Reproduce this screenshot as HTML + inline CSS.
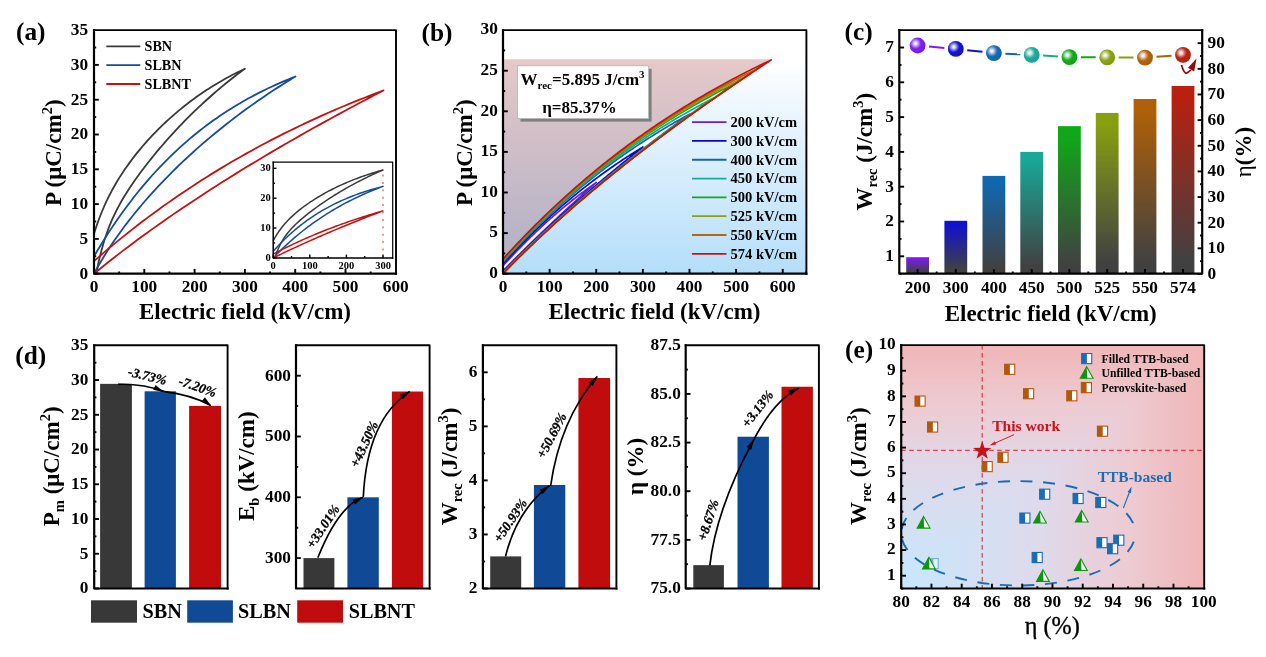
<!DOCTYPE html>
<html lang="en">
<head>
<meta charset="utf-8">
<title>Energy storage figure</title>
<style>
html,body{margin:0;padding:0;background:#fff;}
body{width:1266px;height:657px;overflow:hidden;}
svg{display:block;font-family:'Liberation Serif', serif;}
</style>
</head>
<body>
<svg width="1266" height="657" viewBox="0 0 1266 657">
<defs>
<linearGradient id="gb" x1="0" y1="0" x2="0" y2="1"><stop offset="0" stop-color="#ffffff"/><stop offset="0.12" stop-color="#ffffff"/><stop offset="0.38" stop-color="#e8f4fe"/><stop offset="1" stop-color="#b4defa"/></linearGradient>
<linearGradient id="cb0" x1="0" y1="0" x2="0" y2="1"><stop offset="0" stop-color="#7a1cf0"/><stop offset="0.06" stop-color="#7a1cf0"/><stop offset="0.93" stop-color="#414141"/><stop offset="1" stop-color="#404040"/></linearGradient>
<radialGradient id="cs0" cx="0.37" cy="0.37" r="0.62" fx="0.37" fy="0.37"><stop offset="0" stop-color="#ffffff"/><stop offset="0.14" stop-color="#ffffff" stop-opacity="0.85"/><stop offset="0.5" stop-color="#ffffff" stop-opacity="0.12"/><stop offset="0.62" stop-color="#ffffff" stop-opacity="0"/><stop offset="1" stop-color="#000000" stop-opacity="0.06"/></radialGradient>
<linearGradient id="cb1" x1="0" y1="0" x2="0" y2="1"><stop offset="0" stop-color="#1010d0"/><stop offset="0.06" stop-color="#1010d0"/><stop offset="0.93" stop-color="#414141"/><stop offset="1" stop-color="#404040"/></linearGradient>
<radialGradient id="cs1" cx="0.37" cy="0.37" r="0.62" fx="0.37" fy="0.37"><stop offset="0" stop-color="#ffffff"/><stop offset="0.14" stop-color="#ffffff" stop-opacity="0.85"/><stop offset="0.5" stop-color="#ffffff" stop-opacity="0.12"/><stop offset="0.62" stop-color="#ffffff" stop-opacity="0"/><stop offset="1" stop-color="#000000" stop-opacity="0.06"/></radialGradient>
<linearGradient id="cb2" x1="0" y1="0" x2="0" y2="1"><stop offset="0" stop-color="#1068b0"/><stop offset="0.06" stop-color="#1068b0"/><stop offset="0.93" stop-color="#414141"/><stop offset="1" stop-color="#404040"/></linearGradient>
<radialGradient id="cs2" cx="0.37" cy="0.37" r="0.62" fx="0.37" fy="0.37"><stop offset="0" stop-color="#ffffff"/><stop offset="0.14" stop-color="#ffffff" stop-opacity="0.85"/><stop offset="0.5" stop-color="#ffffff" stop-opacity="0.12"/><stop offset="0.62" stop-color="#ffffff" stop-opacity="0"/><stop offset="1" stop-color="#000000" stop-opacity="0.06"/></radialGradient>
<linearGradient id="cb3" x1="0" y1="0" x2="0" y2="1"><stop offset="0" stop-color="#18a898"/><stop offset="0.06" stop-color="#18a898"/><stop offset="0.93" stop-color="#414141"/><stop offset="1" stop-color="#404040"/></linearGradient>
<radialGradient id="cs3" cx="0.37" cy="0.37" r="0.62" fx="0.37" fy="0.37"><stop offset="0" stop-color="#ffffff"/><stop offset="0.14" stop-color="#ffffff" stop-opacity="0.85"/><stop offset="0.5" stop-color="#ffffff" stop-opacity="0.12"/><stop offset="0.62" stop-color="#ffffff" stop-opacity="0"/><stop offset="1" stop-color="#000000" stop-opacity="0.06"/></radialGradient>
<linearGradient id="cb4" x1="0" y1="0" x2="0" y2="1"><stop offset="0" stop-color="#10a818"/><stop offset="0.06" stop-color="#10a818"/><stop offset="0.93" stop-color="#414141"/><stop offset="1" stop-color="#404040"/></linearGradient>
<radialGradient id="cs4" cx="0.37" cy="0.37" r="0.62" fx="0.37" fy="0.37"><stop offset="0" stop-color="#ffffff"/><stop offset="0.14" stop-color="#ffffff" stop-opacity="0.85"/><stop offset="0.5" stop-color="#ffffff" stop-opacity="0.12"/><stop offset="0.62" stop-color="#ffffff" stop-opacity="0"/><stop offset="1" stop-color="#000000" stop-opacity="0.06"/></radialGradient>
<linearGradient id="cb5" x1="0" y1="0" x2="0" y2="1"><stop offset="0" stop-color="#88a010"/><stop offset="0.06" stop-color="#88a010"/><stop offset="0.93" stop-color="#414141"/><stop offset="1" stop-color="#404040"/></linearGradient>
<radialGradient id="cs5" cx="0.37" cy="0.37" r="0.62" fx="0.37" fy="0.37"><stop offset="0" stop-color="#ffffff"/><stop offset="0.14" stop-color="#ffffff" stop-opacity="0.85"/><stop offset="0.5" stop-color="#ffffff" stop-opacity="0.12"/><stop offset="0.62" stop-color="#ffffff" stop-opacity="0"/><stop offset="1" stop-color="#000000" stop-opacity="0.06"/></radialGradient>
<linearGradient id="cb6" x1="0" y1="0" x2="0" y2="1"><stop offset="0" stop-color="#b06008"/><stop offset="0.06" stop-color="#b06008"/><stop offset="0.93" stop-color="#414141"/><stop offset="1" stop-color="#404040"/></linearGradient>
<radialGradient id="cs6" cx="0.37" cy="0.37" r="0.62" fx="0.37" fy="0.37"><stop offset="0" stop-color="#ffffff"/><stop offset="0.14" stop-color="#ffffff" stop-opacity="0.85"/><stop offset="0.5" stop-color="#ffffff" stop-opacity="0.12"/><stop offset="0.62" stop-color="#ffffff" stop-opacity="0"/><stop offset="1" stop-color="#000000" stop-opacity="0.06"/></radialGradient>
<linearGradient id="cb7" x1="0" y1="0" x2="0" y2="1"><stop offset="0" stop-color="#b82010"/><stop offset="0.06" stop-color="#b82010"/><stop offset="0.93" stop-color="#414141"/><stop offset="1" stop-color="#404040"/></linearGradient>
<radialGradient id="cs7" cx="0.37" cy="0.37" r="0.62" fx="0.37" fy="0.37"><stop offset="0" stop-color="#ffffff"/><stop offset="0.14" stop-color="#ffffff" stop-opacity="0.85"/><stop offset="0.5" stop-color="#ffffff" stop-opacity="0.12"/><stop offset="0.62" stop-color="#ffffff" stop-opacity="0"/><stop offset="1" stop-color="#000000" stop-opacity="0.06"/></radialGradient>
<linearGradient id="geh" x1="901.2" y1="0" x2="1204.2" y2="0" gradientUnits="userSpaceOnUse"><stop offset="0" stop-color="#c6e8fd"/><stop offset="0.45" stop-color="#dedaec"/><stop offset="0.75" stop-color="#edcbd2"/><stop offset="1" stop-color="#f0b6b8"/></linearGradient>
<linearGradient id="gev" x1="0" y1="588.5" x2="0" y2="345.1" gradientUnits="userSpaceOnUse"><stop offset="0" stop-color="#c6e8fd"/><stop offset="0.45" stop-color="#dedaec"/><stop offset="0.75" stop-color="#edcbd2"/><stop offset="1" stop-color="#f0b6b8"/></linearGradient>
</defs>
<rect x="0" y="0" width="1266" height="657" fill="#fff"/>
<g id="panel-a">
<text x="16" y="40.3" font-size="25.3" text-anchor="start" font-weight="bold" fill="#000">(a)</text>
<clipPath id="clipa"><rect x="94" y="30.1" width="302" height="243.6"/></clipPath>
<g clip-path="url(#clipa)">
<path d="M94 233.75 L96.56 225.91 L99.12 218.78 L101.67 212.26 L104.23 206.24 L106.79 200.66 L109.35 195.46 L111.9 190.56 L114.46 185.95 L117.02 181.57 L119.58 177.4 L122.13 173.42 L124.69 169.6 L127.25 165.92 L129.81 162.38 L132.36 158.96 L134.92 155.64 L137.48 152.43 L140.04 149.31 L142.59 146.28 L145.15 143.33 L147.71 140.46 L150.27 137.66 L152.83 134.93 L155.38 132.27 L157.94 129.67 L160.5 127.14 L163.06 124.66 L165.61 122.24 L168.17 119.87 L170.73 117.56 L173.29 115.3 L175.84 113.09 L178.4 110.93 L180.96 108.82 L183.52 106.76 L186.07 104.74 L188.63 102.76 L191.19 100.83 L193.75 98.94 L196.3 97.1 L198.86 95.29 L201.42 93.52 L203.98 91.79 L206.54 90.1 L209.09 88.45 L211.65 86.83 L214.21 85.24 L216.77 83.69 L219.32 82.18 L221.88 80.7 L224.44 79.25 L227 77.83 L229.55 76.44 L232.11 75.08 L234.67 73.76 L237.23 72.46 L239.78 71.19 L242.34 69.94 L244.9 68.73 L244.9 68.73 L242.38 70.58 L239.86 72.46 L237.34 74.37 L234.82 76.3 L232.3 78.27 L229.78 80.25 L227.26 82.27 L224.74 84.32 L222.22 86.39 L219.7 88.49 L217.18 90.63 L214.66 92.79 L212.14 94.98 L209.62 97.21 L207.1 99.46 L204.58 101.75 L202.06 104.07 L199.54 106.42 L197.02 108.8 L194.5 111.22 L191.98 113.68 L189.46 116.16 L186.94 118.69 L184.42 121.24 L181.9 123.84 L179.38 126.47 L176.86 129.14 L174.34 131.85 L171.82 134.59 L169.3 137.38 L166.78 140.21 L164.26 143.08 L161.74 145.99 L159.22 148.95 L156.7 151.95 L154.18 155 L151.66 158.1 L149.14 161.25 L146.62 164.46 L144.1 167.73 L141.58 171.06 L139.05 174.46 L136.53 177.95 L134.01 181.52 L131.49 185.19 L128.97 188.99 L126.45 192.91 L123.93 197.01 L121.41 201.3 L118.89 205.82 L116.37 210.64 L113.85 215.82 L111.33 221.45 L108.81 227.64 L106.29 234.53 L103.77 242.31 L101.25 251.22 L98.73 261.55 L96.21 273.7" fill="none" stroke="#3a3a3a" stroke-width="1.8" stroke-linejoin="round"/>
<path d="M94 256.3 L97.42 250.54 L100.83 244.92 L104.25 239.44 L107.66 234.09 L111.08 228.88 L114.49 223.79 L117.91 218.84 L121.32 214 L124.74 209.28 L128.15 204.68 L131.57 200.2 L134.98 195.82 L138.4 191.56 L141.81 187.4 L145.23 183.34 L148.64 179.38 L152.06 175.52 L155.47 171.76 L158.89 168.09 L162.31 164.51 L165.72 161.02 L169.14 157.61 L172.55 154.29 L175.97 151.05 L179.38 147.9 L182.8 144.82 L186.21 141.81 L189.63 138.88 L193.04 136.03 L196.46 133.24 L199.87 130.52 L203.29 127.87 L206.7 125.29 L210.12 122.77 L213.53 120.31 L216.95 117.91 L220.37 115.57 L223.78 113.29 L227.2 111.07 L230.61 108.9 L234.03 106.78 L237.44 104.72 L240.86 102.71 L244.27 100.75 L247.69 98.83 L251.1 96.97 L254.52 95.15 L257.93 93.37 L261.35 91.64 L264.76 89.95 L268.18 88.31 L271.59 86.7 L275.01 85.14 L278.42 83.61 L281.84 82.12 L285.26 80.67 L288.67 79.25 L292.09 77.87 L295.5 76.52 L295.5 76.52 L292.09 78.59 L288.67 80.68 L285.26 82.8 L281.84 84.95 L278.42 87.13 L275.01 89.33 L271.59 91.57 L268.18 93.83 L264.76 96.13 L261.35 98.45 L257.93 100.81 L254.52 103.2 L251.1 105.62 L247.69 108.07 L244.27 110.56 L240.86 113.08 L237.44 115.63 L234.03 118.22 L230.61 120.84 L227.2 123.5 L223.78 126.2 L220.37 128.93 L216.95 131.7 L213.53 134.51 L210.12 137.36 L206.7 140.25 L203.29 143.18 L199.87 146.16 L196.46 149.18 L193.04 152.24 L189.63 155.35 L186.21 158.5 L182.8 161.71 L179.38 164.96 L175.97 168.27 L172.55 171.63 L169.14 175.05 L165.72 178.52 L162.31 182.06 L158.89 185.66 L155.47 189.33 L152.06 193.06 L148.64 196.87 L145.23 200.76 L141.81 204.74 L138.4 208.8 L134.98 212.95 L131.57 217.21 L128.15 221.58 L124.74 226.06 L121.32 230.67 L117.91 235.42 L114.49 240.31 L111.08 245.37 L107.66 250.61 L104.25 256.04 L100.83 261.68 L97.42 267.56 L94 273.7" fill="none" stroke="#154c9c" stroke-width="1.8" stroke-linejoin="round"/>
<path d="M94 261.17 L98.91 256.9 L103.81 252.68 L108.72 248.53 L113.63 244.43 L118.53 240.4 L123.44 236.42 L128.34 232.5 L133.25 228.64 L138.16 224.83 L143.06 221.08 L147.97 217.38 L152.88 213.74 L157.78 210.15 L162.69 206.6 L167.6 203.11 L172.5 199.68 L177.41 196.28 L182.31 192.94 L187.22 189.65 L192.13 186.41 L197.03 183.21 L201.94 180.05 L206.85 176.95 L211.75 173.88 L216.66 170.86 L221.57 167.89 L226.47 164.96 L231.38 162.07 L236.28 159.22 L241.19 156.41 L246.1 153.65 L251 150.92 L255.91 148.23 L260.82 145.58 L265.72 142.97 L270.63 140.4 L275.54 137.86 L280.44 135.36 L285.35 132.9 L290.25 130.47 L295.16 128.08 L300.07 125.72 L304.97 123.39 L309.88 121.1 L314.79 118.84 L319.69 116.62 L324.6 114.43 L329.51 112.26 L334.41 110.13 L339.32 108.03 L344.22 105.96 L349.13 103.92 L354.04 101.91 L358.94 99.93 L363.85 97.98 L368.76 96.05 L373.66 94.16 L378.57 92.29 L383.48 90.44 L383.48 90.44 L378.57 92.99 L373.66 95.55 L368.76 98.12 L363.85 100.7 L358.94 103.3 L354.04 105.92 L349.13 108.54 L344.22 111.18 L339.32 113.84 L334.41 116.51 L329.51 119.19 L324.6 121.89 L319.69 124.6 L314.79 127.33 L309.88 130.08 L304.97 132.84 L300.07 135.62 L295.16 138.41 L290.25 141.22 L285.35 144.05 L280.44 146.9 L275.54 149.76 L270.63 152.65 L265.72 155.55 L260.82 158.47 L255.91 161.41 L251 164.37 L246.1 167.35 L241.19 170.35 L236.28 173.37 L231.38 176.41 L226.47 179.48 L221.57 182.57 L216.66 185.68 L211.75 188.82 L206.85 191.98 L201.94 195.17 L197.03 198.39 L192.13 201.63 L187.22 204.9 L182.31 208.2 L177.41 211.53 L172.5 214.88 L167.6 218.27 L162.69 221.7 L157.78 225.15 L152.88 228.64 L147.97 232.17 L143.06 235.73 L138.16 239.33 L133.25 242.97 L128.34 246.66 L123.44 250.38 L118.53 254.15 L113.63 257.96 L108.72 261.82 L103.81 265.73 L98.91 269.69 L94 273.7" fill="none" stroke="#c01414" stroke-width="1.8" stroke-linejoin="round"/>
</g>
<path d="M94 30.1 L396 30.1 L396 273.7" fill="none" stroke="#000" stroke-width="1.9" stroke-linejoin="round" stroke-linecap="square"/>
<path d="M94 30.1 L94 273.7 L396 273.7" fill="none" stroke="#000" stroke-width="2.2" stroke-linejoin="round" stroke-linecap="square"/>
<line x1="94" y1="273.7" x2="94" y2="268.9" stroke="#000" stroke-width="1.9"/>
<text x="94" y="292.3" font-size="17.3" text-anchor="middle" font-weight="bold" fill="#000">0</text>
<line x1="144.3" y1="273.7" x2="144.3" y2="268.9" stroke="#000" stroke-width="1.9"/>
<text x="144.3" y="292.3" font-size="17.3" text-anchor="middle" font-weight="bold" fill="#000">100</text>
<line x1="194.6" y1="273.7" x2="194.6" y2="268.9" stroke="#000" stroke-width="1.9"/>
<text x="194.6" y="292.3" font-size="17.3" text-anchor="middle" font-weight="bold" fill="#000">200</text>
<line x1="244.9" y1="273.7" x2="244.9" y2="268.9" stroke="#000" stroke-width="1.9"/>
<text x="244.9" y="292.3" font-size="17.3" text-anchor="middle" font-weight="bold" fill="#000">300</text>
<line x1="295.2" y1="273.7" x2="295.2" y2="268.9" stroke="#000" stroke-width="1.9"/>
<text x="295.2" y="292.3" font-size="17.3" text-anchor="middle" font-weight="bold" fill="#000">400</text>
<line x1="345.5" y1="273.7" x2="345.5" y2="268.9" stroke="#000" stroke-width="1.9"/>
<text x="345.5" y="292.3" font-size="17.3" text-anchor="middle" font-weight="bold" fill="#000">500</text>
<text x="395.8" y="292.3" font-size="17.3" text-anchor="middle" font-weight="bold" fill="#000">600</text>
<line x1="119.15" y1="273.7" x2="119.15" y2="271.5" stroke="#000" stroke-width="1.9"/>
<line x1="169.45" y1="273.7" x2="169.45" y2="271.5" stroke="#000" stroke-width="1.9"/>
<line x1="219.75" y1="273.7" x2="219.75" y2="271.5" stroke="#000" stroke-width="1.9"/>
<line x1="270.05" y1="273.7" x2="270.05" y2="271.5" stroke="#000" stroke-width="1.9"/>
<line x1="320.35" y1="273.7" x2="320.35" y2="271.5" stroke="#000" stroke-width="1.9"/>
<line x1="370.65" y1="273.7" x2="370.65" y2="271.5" stroke="#000" stroke-width="1.9"/>
<line x1="94" y1="273.7" x2="98.8" y2="273.7" stroke="#000" stroke-width="1.9"/>
<text x="88.1" y="278.54" font-size="17.3" text-anchor="end" font-weight="bold" fill="#000">0</text>
<line x1="94" y1="238.9" x2="98.8" y2="238.9" stroke="#000" stroke-width="1.9"/>
<text x="88.1" y="243.74" font-size="17.3" text-anchor="end" font-weight="bold" fill="#000">5</text>
<line x1="94" y1="204.1" x2="98.8" y2="204.1" stroke="#000" stroke-width="1.9"/>
<text x="88.1" y="208.94" font-size="17.3" text-anchor="end" font-weight="bold" fill="#000">10</text>
<line x1="94" y1="169.3" x2="98.8" y2="169.3" stroke="#000" stroke-width="1.9"/>
<text x="88.1" y="174.14" font-size="17.3" text-anchor="end" font-weight="bold" fill="#000">15</text>
<line x1="94" y1="134.5" x2="98.8" y2="134.5" stroke="#000" stroke-width="1.9"/>
<text x="88.1" y="139.34" font-size="17.3" text-anchor="end" font-weight="bold" fill="#000">20</text>
<line x1="94" y1="99.7" x2="98.8" y2="99.7" stroke="#000" stroke-width="1.9"/>
<text x="88.1" y="104.54" font-size="17.3" text-anchor="end" font-weight="bold" fill="#000">25</text>
<line x1="94" y1="64.9" x2="98.8" y2="64.9" stroke="#000" stroke-width="1.9"/>
<text x="88.1" y="69.74" font-size="17.3" text-anchor="end" font-weight="bold" fill="#000">30</text>
<text x="88.1" y="34.94" font-size="17.3" text-anchor="end" font-weight="bold" fill="#000">35</text>
<line x1="94" y1="256.3" x2="96.2" y2="256.3" stroke="#000" stroke-width="1.9"/>
<line x1="94" y1="221.5" x2="96.2" y2="221.5" stroke="#000" stroke-width="1.9"/>
<line x1="94" y1="186.7" x2="96.2" y2="186.7" stroke="#000" stroke-width="1.9"/>
<line x1="94" y1="151.9" x2="96.2" y2="151.9" stroke="#000" stroke-width="1.9"/>
<line x1="94" y1="117.1" x2="96.2" y2="117.1" stroke="#000" stroke-width="1.9"/>
<line x1="94" y1="82.3" x2="96.2" y2="82.3" stroke="#000" stroke-width="1.9"/>
<line x1="94" y1="47.5" x2="96.2" y2="47.5" stroke="#000" stroke-width="1.9"/>
<text x="245" y="318.7" font-size="23" text-anchor="middle" font-weight="bold" fill="#000">Electric field (kV/cm)</text>
<text x="61.5" y="152.7" font-size="23" text-anchor="middle" font-weight="bold" fill="#000" transform="rotate(-90 61.5 152.7)">P (μC/cm<tspan dy="-9" font-size="14.5">2</tspan><tspan dy="9">&#8203;</tspan>)</text>
<line x1="106.3" y1="46.3" x2="140.3" y2="46.3" stroke="#3a3a3a" stroke-width="1.8"/>
<text x="144.5" y="50.8" font-size="14.2" text-anchor="start" font-weight="bold" fill="#000">SBN</text>
<line x1="106.3" y1="65.15" x2="140.3" y2="65.15" stroke="#154c9c" stroke-width="1.8"/>
<text x="144.5" y="69.65" font-size="14.2" text-anchor="start" font-weight="bold" fill="#000">SLBN</text>
<line x1="106.3" y1="84" x2="140.3" y2="84" stroke="#c01414" stroke-width="1.8"/>
<text x="144.5" y="88.5" font-size="14.2" text-anchor="start" font-weight="bold" fill="#000">SLBNT</text>
<rect x="273.2" y="162.2" width="119.5" height="95.7" fill="#fff" stroke="none" stroke-width="1.5"/>
<path d="M273.2 240.77 L275.06 237.4 L276.92 234.35 L278.78 231.55 L280.64 228.97 L282.51 226.58 L284.37 224.34 L286.23 222.24 L288.09 220.26 L289.95 218.39 L291.81 216.6 L293.67 214.89 L295.53 213.25 L297.39 211.68 L299.25 210.16 L301.12 208.69 L302.98 207.27 L304.84 205.89 L306.7 204.55 L308.56 203.25 L310.42 201.99 L312.28 200.76 L314.14 199.56 L316 198.39 L317.86 197.24 L319.73 196.13 L321.59 195.04 L323.45 193.98 L325.31 192.94 L327.17 191.93 L329.03 190.93 L330.89 189.97 L332.75 189.02 L334.61 188.09 L336.48 187.19 L338.34 186.3 L340.2 185.44 L342.06 184.59 L343.92 183.76 L345.78 182.95 L347.64 182.16 L349.5 181.38 L351.36 180.62 L353.22 179.88 L355.09 179.16 L356.95 178.45 L358.81 177.75 L360.67 177.07 L362.53 176.41 L364.39 175.76 L366.25 175.12 L368.11 174.5 L369.97 173.89 L371.83 173.3 L373.7 172.72 L375.56 172.15 L377.42 171.59 L379.28 171.05 L381.14 170.51 L383 169.99 L383 169.99 L381.17 170.79 L379.33 171.59 L377.5 172.41 L375.67 173.24 L373.83 174.08 L372 174.93 L370.16 175.8 L368.33 176.68 L366.5 177.57 L364.66 178.47 L362.83 179.38 L361 180.31 L359.16 181.25 L357.33 182.2 L355.49 183.17 L353.66 184.15 L351.83 185.15 L349.99 186.16 L348.16 187.18 L346.33 188.22 L344.49 189.27 L342.66 190.34 L340.82 191.42 L338.99 192.51 L337.16 193.63 L335.32 194.76 L333.49 195.9 L331.66 197.06 L329.82 198.24 L327.99 199.44 L326.16 200.65 L324.32 201.88 L322.49 203.13 L320.65 204.4 L318.82 205.68 L316.99 206.99 L315.15 208.32 L313.32 209.67 L311.49 211.05 L309.65 212.45 L307.82 213.88 L305.98 215.34 L304.15 216.83 L302.32 218.37 L300.48 219.94 L298.65 221.57 L296.82 223.25 L294.98 225.01 L293.15 226.85 L291.31 228.79 L289.48 230.86 L287.65 233.08 L285.81 235.49 L283.98 238.15 L282.15 241.1 L280.31 244.44 L278.48 248.26 L276.64 252.69 L274.81 257.9" fill="none" stroke="#3a3a3a" stroke-width="1.5" stroke-linejoin="round"/>
<path d="M273.2 251.33 L275.06 249.24 L276.92 247.2 L278.78 245.21 L280.64 243.28 L282.51 241.39 L284.37 239.54 L286.23 237.75 L288.09 235.99 L289.95 234.29 L291.81 232.62 L293.67 231 L295.53 229.41 L297.39 227.87 L299.25 226.37 L301.12 224.9 L302.98 223.47 L304.84 222.07 L306.7 220.71 L308.56 219.39 L310.42 218.09 L312.28 216.83 L314.14 215.6 L316 214.4 L317.86 213.23 L319.73 212.09 L321.59 210.98 L323.45 209.9 L325.31 208.84 L327.17 207.81 L329.03 206.81 L330.89 205.83 L332.75 204.87 L334.61 203.94 L336.48 203.03 L338.34 202.14 L340.2 201.28 L342.06 200.44 L343.92 199.62 L345.78 198.82 L347.64 198.03 L349.5 197.27 L351.36 196.53 L353.22 195.81 L355.09 195.1 L356.95 194.41 L358.81 193.74 L360.67 193.08 L362.53 192.44 L364.39 191.82 L366.25 191.21 L368.11 190.62 L369.97 190.04 L371.83 189.48 L373.7 188.93 L375.56 188.39 L377.42 187.87 L379.28 187.36 L381.14 186.86 L383 186.38 L383 186.38 L381.14 187.08 L379.28 187.79 L377.42 188.51 L375.56 189.25 L373.7 189.99 L371.83 190.76 L369.97 191.53 L368.11 192.32 L366.25 193.12 L364.39 193.94 L362.53 194.77 L360.67 195.62 L358.81 196.48 L356.95 197.35 L355.09 198.25 L353.22 199.15 L351.36 200.08 L349.5 201.02 L347.64 201.97 L345.78 202.95 L343.92 203.94 L342.06 204.95 L340.2 205.97 L338.34 207.02 L336.48 208.08 L334.61 209.16 L332.75 210.26 L330.89 211.38 L329.03 212.52 L327.17 213.68 L325.31 214.86 L323.45 216.06 L321.59 217.28 L319.73 218.53 L317.86 219.79 L316 221.08 L314.14 222.39 L312.28 223.73 L310.42 225.09 L308.56 226.47 L306.7 227.87 L304.84 229.31 L302.98 230.76 L301.12 232.24 L299.25 233.75 L297.39 235.29 L295.53 236.85 L293.67 238.44 L291.81 240.06 L289.95 241.7 L288.09 243.38 L286.23 245.09 L284.37 246.82 L282.51 248.59 L280.64 250.39 L278.78 252.22 L276.92 254.08 L275.06 255.97 L273.2 257.9" fill="none" stroke="#154c9c" stroke-width="1.5" stroke-linejoin="round"/>
<path d="M273.2 254.17 L275.06 253.19 L276.92 252.22 L278.78 251.26 L280.64 250.31 L282.51 249.37 L284.37 248.44 L286.23 247.52 L288.09 246.61 L289.95 245.71 L291.81 244.82 L293.67 243.94 L295.53 243.07 L297.39 242.21 L299.25 241.35 L301.12 240.51 L302.98 239.67 L304.84 238.84 L306.7 238.03 L308.56 237.22 L310.42 236.41 L312.28 235.62 L314.14 234.84 L316 234.06 L317.86 233.29 L319.73 232.53 L321.59 231.78 L323.45 231.03 L325.31 230.3 L327.17 229.57 L329.03 228.85 L330.89 228.13 L332.75 227.43 L334.61 226.73 L336.48 226.04 L338.34 225.35 L340.2 224.67 L342.06 224 L343.92 223.34 L345.78 222.68 L347.64 222.04 L349.5 221.39 L351.36 220.76 L353.22 220.13 L355.09 219.51 L356.95 218.89 L358.81 218.28 L360.67 217.68 L362.53 217.08 L364.39 216.49 L366.25 215.91 L368.11 215.33 L369.97 214.76 L371.83 214.19 L373.7 213.63 L375.56 213.08 L377.42 212.53 L379.28 211.98 L381.14 211.45 L383 210.92 L383 210.92 L381.14 211.61 L379.28 212.32 L377.42 213.02 L375.56 213.73 L373.7 214.44 L371.83 215.16 L369.97 215.87 L368.11 216.59 L366.25 217.32 L364.39 218.05 L362.53 218.78 L360.67 219.51 L358.81 220.25 L356.95 220.99 L355.09 221.73 L353.22 222.48 L351.36 223.23 L349.5 223.98 L347.64 224.74 L345.78 225.5 L343.92 226.26 L342.06 227.03 L340.2 227.8 L338.34 228.57 L336.48 229.35 L334.61 230.13 L332.75 230.91 L330.89 231.7 L329.03 232.49 L327.17 233.28 L325.31 234.08 L323.45 234.88 L321.59 235.69 L319.73 236.49 L317.86 237.31 L316 238.12 L314.14 238.94 L312.28 239.76 L310.42 240.59 L308.56 241.42 L306.7 242.25 L304.84 243.09 L302.98 243.93 L301.12 244.77 L299.25 245.62 L297.39 246.48 L295.53 247.33 L293.67 248.19 L291.81 249.05 L289.95 249.92 L288.09 250.79 L286.23 251.67 L284.37 252.55 L282.51 253.43 L280.64 254.31 L278.78 255.21 L276.92 256.1 L275.06 257 L273.2 257.9" fill="none" stroke="#c01414" stroke-width="1.5" stroke-linejoin="round"/>
<line x1="383" y1="257.9" x2="383" y2="169.54" stroke="#f07c7c" stroke-width="1.6" stroke-dasharray="2 5.4"/>
<path d="M273.2 162.2 L392.7 162.2 L392.7 257.9" fill="none" stroke="#000" stroke-width="1.2" stroke-linejoin="round" stroke-linecap="square"/>
<path d="M273.2 162.2 L273.2 257.9 L392.7 257.9" fill="none" stroke="#000" stroke-width="1.5" stroke-linejoin="round" stroke-linecap="square"/>
<line x1="273.2" y1="257.9" x2="273.2" y2="254.6" stroke="#000" stroke-width="1.4"/>
<text x="273.2" y="268.6" font-size="10.5" text-anchor="middle" font-weight="bold" fill="#000">0</text>
<line x1="309.8" y1="257.9" x2="309.8" y2="254.6" stroke="#000" stroke-width="1.4"/>
<text x="309.8" y="268.6" font-size="10.5" text-anchor="middle" font-weight="bold" fill="#000">100</text>
<line x1="346.4" y1="257.9" x2="346.4" y2="254.6" stroke="#000" stroke-width="1.4"/>
<text x="346.4" y="268.6" font-size="10.5" text-anchor="middle" font-weight="bold" fill="#000">200</text>
<line x1="383" y1="257.9" x2="383" y2="254.6" stroke="#000" stroke-width="1.4"/>
<text x="383" y="268.6" font-size="10.5" text-anchor="middle" font-weight="bold" fill="#000">300</text>
<line x1="291.5" y1="257.9" x2="291.5" y2="256" stroke="#000" stroke-width="1.4"/>
<line x1="328.1" y1="257.9" x2="328.1" y2="256" stroke="#000" stroke-width="1.4"/>
<line x1="364.7" y1="257.9" x2="364.7" y2="256" stroke="#000" stroke-width="1.4"/>
<line x1="273.2" y1="257.9" x2="276.5" y2="257.9" stroke="#000" stroke-width="1.4"/>
<text x="270.8" y="260.84" font-size="10.5" text-anchor="end" font-weight="bold" fill="#000">0</text>
<line x1="273.2" y1="228.05" x2="276.5" y2="228.05" stroke="#000" stroke-width="1.4"/>
<text x="270.8" y="230.99" font-size="10.5" text-anchor="end" font-weight="bold" fill="#000">10</text>
<line x1="273.2" y1="198.2" x2="276.5" y2="198.2" stroke="#000" stroke-width="1.4"/>
<text x="270.8" y="201.14" font-size="10.5" text-anchor="end" font-weight="bold" fill="#000">20</text>
<line x1="273.2" y1="168.35" x2="276.5" y2="168.35" stroke="#000" stroke-width="1.4"/>
<text x="270.8" y="171.29" font-size="10.5" text-anchor="end" font-weight="bold" fill="#000">30</text>
<line x1="273.2" y1="242.97" x2="275.1" y2="242.97" stroke="#000" stroke-width="1.4"/>
<line x1="273.2" y1="213.12" x2="275.1" y2="213.12" stroke="#000" stroke-width="1.4"/>
<line x1="273.2" y1="183.27" x2="275.1" y2="183.27" stroke="#000" stroke-width="1.4"/>
</g>
<g id="panel-b">
<text x="421.5" y="41" font-size="25.3" text-anchor="start" font-weight="bold" fill="#000">(b)</text>
<rect x="503" y="30.1" width="303.4" height="243.6" fill="url(#gb)" stroke="none" stroke-width="1.5"/>
<path d="M503 259.08 L505.71 256.1 L508.42 253.15 L511.13 250.22 L513.84 247.31 L516.55 244.43 L519.26 241.57 L521.97 238.74 L524.68 235.94 L527.39 233.16 L530.1 230.4 L532.81 227.66 L535.52 224.95 L538.23 222.26 L540.94 219.6 L543.65 216.96 L546.36 214.34 L549.07 211.74 L551.78 209.17 L554.49 206.62 L557.2 204.09 L559.91 201.58 L562.62 199.09 L565.33 196.63 L568.04 194.18 L570.75 191.76 L573.46 189.36 L576.17 186.98 L578.88 184.61 L581.59 182.27 L584.3 179.95 L587.01 177.65 L589.72 175.37 L592.43 173.11 L595.14 170.87 L597.85 168.65 L600.56 166.45 L603.27 164.26 L605.98 162.1 L608.69 159.95 L611.4 157.82 L614.11 155.71 L616.82 153.62 L619.53 151.55 L622.24 149.49 L624.95 147.45 L627.66 145.43 L630.37 143.43 L633.08 141.44 L635.79 139.47 L638.5 137.52 L641.21 135.59 L643.92 133.67 L646.63 131.77 L649.34 129.88 L652.05 128.01 L654.76 126.16 L657.47 124.32 L660.18 122.5 L662.89 120.69 L665.6 118.9 L668.31 117.13 L671.02 115.37 L673.73 113.63 L676.44 111.9 L679.15 110.18 L681.86 108.48 L684.57 106.8 L687.28 105.13 L689.99 103.47 L692.7 101.83 L695.41 100.2 L698.12 98.59 L700.83 96.99 L703.54 95.4 L706.25 93.83 L708.96 92.27 L711.67 90.73 L714.38 89.19 L717.09 87.67 L719.8 86.17 L722.51 84.68 L725.22 83.2 L727.93 81.73 L730.64 80.27 L733.35 78.83 L736.06 77.4 L738.77 75.99 L741.48 74.58 L744.19 73.19 L746.9 71.81 L749.62 70.44 L752.33 69.08 L755.04 67.73 L757.75 66.4 L760.46 65.08 L763.17 63.77 L765.88 62.47 L768.59 61.18 L771.3 59.9 L771.3 59.17 L503 59.17 Z" fill="#a03030" stroke="none" stroke-width="1.8" stroke-linejoin="round" fill-opacity="0.26"/>
<path d="M503 259.08 L505.71 256.1 L508.42 253.15 L511.13 250.22 L513.84 247.31 L516.55 244.43 L519.26 241.57 L521.97 238.74 L524.68 235.94 L527.39 233.16 L530.1 230.4 L532.81 227.66 L535.52 224.95 L538.23 222.26 L540.94 219.6 L543.65 216.96 L546.36 214.34 L549.07 211.74 L551.78 209.17 L554.49 206.62 L557.2 204.09 L559.91 201.58 L562.62 199.09 L565.33 196.63 L568.04 194.18 L570.75 191.76 L573.46 189.36 L576.17 186.98 L578.88 184.61 L581.59 182.27 L584.3 179.95 L587.01 177.65 L589.72 175.37 L592.43 173.11 L595.14 170.87 L597.85 168.65 L600.56 166.45 L603.27 164.26 L605.98 162.1 L608.69 159.95 L611.4 157.82 L614.11 155.71 L616.82 153.62 L619.53 151.55 L622.24 149.49 L624.95 147.45 L627.66 145.43 L630.37 143.43 L633.08 141.44 L635.79 139.47 L638.5 137.52 L641.21 135.59 L643.92 133.67 L646.63 131.77 L649.34 129.88 L652.05 128.01 L654.76 126.16 L657.47 124.32 L660.18 122.5 L662.89 120.69 L665.6 118.9 L668.31 117.13 L671.02 115.37 L673.73 113.63 L676.44 111.9 L679.15 110.18 L681.86 108.48 L684.57 106.8 L687.28 105.13 L689.99 103.47 L692.7 101.83 L695.41 100.2 L698.12 98.59 L700.83 96.99 L703.54 95.4 L706.25 93.83 L708.96 92.27 L711.67 90.73 L714.38 89.19 L717.09 87.67 L719.8 86.17 L722.51 84.68 L725.22 83.2 L727.93 81.73 L730.64 80.27 L733.35 78.83 L736.06 77.4 L738.77 75.99 L741.48 74.58 L744.19 73.19 L746.9 71.81 L749.62 70.44 L752.33 69.08 L755.04 67.73 L757.75 66.4 L760.46 65.08 L763.17 63.77 L765.88 62.47 L768.59 61.18 L771.3 59.9 L771.3 59.9 L768.59 61.67 L765.88 63.44 L763.17 65.22 L760.46 67.01 L757.75 68.8 L755.04 70.59 L752.33 72.39 L749.62 74.2 L746.9 76.01 L744.19 77.83 L741.48 79.65 L738.77 81.48 L736.06 83.32 L733.35 85.16 L730.64 87.01 L727.93 88.86 L725.22 90.72 L722.51 92.58 L719.8 94.46 L717.09 96.33 L714.38 98.22 L711.67 100.11 L708.96 102 L706.25 103.91 L703.54 105.82 L700.83 107.73 L698.12 109.66 L695.41 111.59 L692.7 113.53 L689.99 115.47 L687.28 117.42 L684.57 119.38 L681.86 121.34 L679.15 123.31 L676.44 125.29 L673.73 127.28 L671.02 129.28 L668.31 131.28 L665.6 133.29 L662.89 135.31 L660.18 137.33 L657.47 139.36 L654.76 141.41 L652.05 143.46 L649.34 145.51 L646.63 147.58 L643.92 149.66 L641.21 151.74 L638.5 153.83 L635.79 155.93 L633.08 158.04 L630.37 160.16 L627.66 162.29 L624.95 164.43 L622.24 166.58 L619.53 168.74 L616.82 170.9 L614.11 173.08 L611.4 175.27 L608.69 177.47 L605.98 179.68 L603.27 181.9 L600.56 184.13 L597.85 186.37 L595.14 188.62 L592.43 190.89 L589.72 193.16 L587.01 195.45 L584.3 197.75 L581.59 200.06 L578.88 202.39 L576.17 204.72 L573.46 207.07 L570.75 209.44 L568.04 211.82 L565.33 214.21 L562.62 216.61 L559.91 219.03 L557.2 221.46 L554.49 223.91 L551.78 226.38 L549.07 228.86 L546.36 231.35 L543.65 233.86 L540.94 236.39 L538.23 238.93 L535.52 241.49 L532.81 244.07 L530.1 246.67 L527.39 249.28 L524.68 251.92 L521.97 254.57 L519.26 257.24 L516.55 259.93 L513.84 262.64 L511.13 265.37 L508.42 268.13 L505.71 270.9 L503 273.7 Z" fill="#ffffff" stroke="none" stroke-width="1.8" stroke-linejoin="round" fill-opacity="0.85"/>
<path d="M503 265.76 L503.94 264.74 L504.88 263.73 L505.83 262.71 L506.77 261.7 L507.71 260.69 L508.65 259.68 L509.59 258.68 L510.53 257.68 L511.48 256.68 L512.42 255.68 L513.36 254.69 L514.3 253.7 L515.24 252.71 L516.19 251.73 L517.13 250.75 L518.07 249.77 L519.01 248.8 L519.95 247.83 L520.89 246.87 L521.84 245.9 L522.78 244.95 L523.72 243.99 L524.66 243.05 L525.6 242.1 L526.55 241.16 L527.49 240.22 L528.43 239.29 L529.37 238.36 L530.31 237.43 L531.25 236.51 L532.2 235.6 L533.14 234.68 L534.08 233.78 L535.02 232.87 L535.96 231.97 L536.91 231.08 L537.85 230.18 L538.79 229.3 L539.73 228.41 L540.67 227.53 L541.61 226.66 L542.56 225.79 L543.5 224.92 L544.44 224.06 L545.38 223.2 L546.32 222.34 L547.27 221.49 L548.21 220.65 L549.15 219.81 L550.09 218.97 L551.03 218.13 L551.97 217.3 L552.92 216.48 L553.86 215.66 L554.8 214.84 L555.74 214.02 L556.68 213.21 L557.62 212.41 L558.57 211.61 L559.51 210.81 L560.45 210.01 L561.39 209.22 L562.33 208.44 L563.28 207.65 L564.22 206.88 L565.16 206.1 L566.1 205.33 L567.04 204.56 L567.98 203.8 L568.93 203.04 L569.87 202.28 L570.81 201.53 L571.75 200.78 L572.69 200.03 L573.64 199.29 L574.58 198.55 L575.52 197.82 L576.46 197.09 L577.4 196.36 L578.34 195.64 L579.29 194.92 L580.23 194.2 L581.17 193.48 L582.11 192.77 L583.05 192.07 L584 191.36 L584.94 190.66 L585.88 189.96 L586.82 189.27 L587.76 188.58 L588.7 187.89 L589.65 187.21 L590.59 186.52 L591.53 185.85 L592.47 185.17 L593.41 184.5 L594.36 183.83 L595.3 183.16 L596.24 182.5 L596.24 182.5 L595.3 183.33 L594.36 184.17 L593.41 185 L592.47 185.84 L591.53 186.68 L590.59 187.52 L589.65 188.36 L588.7 189.2 L587.76 190.04 L586.82 190.88 L585.88 191.73 L584.94 192.57 L584 193.42 L583.05 194.26 L582.11 195.11 L581.17 195.96 L580.23 196.81 L579.29 197.66 L578.34 198.52 L577.4 199.37 L576.46 200.22 L575.52 201.08 L574.58 201.94 L573.64 202.79 L572.69 203.65 L571.75 204.51 L570.81 205.38 L569.87 206.24 L568.93 207.1 L567.98 207.97 L567.04 208.83 L566.1 209.7 L565.16 210.57 L564.22 211.44 L563.28 212.31 L562.33 213.18 L561.39 214.06 L560.45 214.93 L559.51 215.81 L558.57 216.68 L557.62 217.56 L556.68 218.44 L555.74 219.32 L554.8 220.2 L553.86 221.09 L552.92 221.97 L551.97 222.86 L551.03 223.75 L550.09 224.64 L549.15 225.53 L548.21 226.42 L547.27 227.31 L546.32 228.2 L545.38 229.1 L544.44 230 L543.5 230.89 L542.56 231.79 L541.61 232.69 L540.67 233.6 L539.73 234.5 L538.79 235.41 L537.85 236.31 L536.91 237.22 L535.96 238.13 L535.02 239.04 L534.08 239.95 L533.14 240.87 L532.2 241.78 L531.25 242.7 L530.31 243.62 L529.37 244.54 L528.43 245.46 L527.49 246.38 L526.55 247.3 L525.6 248.23 L524.66 249.16 L523.72 250.08 L522.78 251.01 L521.84 251.94 L520.89 252.88 L519.95 253.81 L519.01 254.75 L518.07 255.68 L517.13 256.62 L516.19 257.56 L515.24 258.5 L514.3 259.45 L513.36 260.39 L512.42 261.33 L511.48 262.28 L510.53 263.23 L509.59 264.18 L508.65 265.13 L507.71 266.08 L506.77 267.03 L505.83 267.98 L504.88 268.94 L503.94 269.89 L503 270.84" fill="none" stroke="#6a1fd0" stroke-width="1.7" stroke-linejoin="round"/>
<path d="M503 263.98 L504.41 262.44 L505.83 260.91 L507.24 259.38 L508.65 257.86 L510.06 256.34 L511.48 254.84 L512.89 253.33 L514.3 251.84 L515.71 250.35 L517.13 248.88 L518.54 247.4 L519.95 245.94 L521.37 244.49 L522.78 243.04 L524.19 241.6 L525.6 240.16 L527.02 238.74 L528.43 237.32 L529.84 235.91 L531.25 234.51 L532.67 233.12 L534.08 231.73 L535.49 230.36 L536.91 228.99 L538.32 227.63 L539.73 226.27 L541.14 224.93 L542.56 223.59 L543.97 222.26 L545.38 220.94 L546.79 219.63 L548.21 218.32 L549.62 217.02 L551.03 215.73 L552.44 214.45 L553.86 213.18 L555.27 211.91 L556.68 210.65 L558.1 209.4 L559.51 208.16 L560.92 206.92 L562.33 205.69 L563.75 204.47 L565.16 203.26 L566.57 202.05 L567.98 200.86 L569.4 199.67 L570.81 198.48 L572.22 197.31 L573.64 196.14 L575.05 194.98 L576.46 193.83 L577.87 192.68 L579.29 191.54 L580.7 190.41 L582.11 189.29 L583.52 188.17 L584.94 187.06 L586.35 185.95 L587.76 184.86 L589.18 183.77 L590.59 182.69 L592 181.61 L593.41 180.54 L594.83 179.48 L596.24 178.42 L597.65 177.37 L599.06 176.33 L600.48 175.29 L601.89 174.26 L603.3 173.24 L604.72 172.23 L606.13 171.21 L607.54 170.21 L608.95 169.21 L610.37 168.22 L611.78 167.24 L613.19 166.26 L614.6 165.28 L616.02 164.32 L617.43 163.35 L618.84 162.4 L620.26 161.45 L621.67 160.51 L623.08 159.57 L624.49 158.64 L625.91 157.71 L627.32 156.79 L628.73 155.87 L630.14 154.96 L631.56 154.06 L632.97 153.16 L634.38 152.27 L635.8 151.38 L637.21 150.49 L638.62 149.62 L640.03 148.74 L641.45 147.88 L642.86 147.01 L642.86 147.01 L641.45 148.13 L640.03 149.25 L638.62 150.38 L637.21 151.5 L635.8 152.63 L634.38 153.75 L632.97 154.89 L631.56 156.02 L630.14 157.15 L628.73 158.29 L627.32 159.43 L625.91 160.57 L624.49 161.72 L623.08 162.87 L621.67 164.01 L620.26 165.17 L618.84 166.32 L617.43 167.48 L616.02 168.64 L614.6 169.8 L613.19 170.96 L611.78 172.13 L610.37 173.3 L608.95 174.47 L607.54 175.64 L606.13 176.82 L604.72 178 L603.3 179.18 L601.89 180.36 L600.48 181.55 L599.06 182.74 L597.65 183.93 L596.24 185.13 L594.83 186.32 L593.41 187.52 L592 188.73 L590.59 189.93 L589.18 191.14 L587.76 192.36 L586.35 193.57 L584.94 194.79 L583.52 196.01 L582.11 197.23 L580.7 198.46 L579.29 199.69 L577.87 200.92 L576.46 202.16 L575.05 203.4 L573.64 204.64 L572.22 205.89 L570.81 207.14 L569.4 208.39 L567.98 209.65 L566.57 210.9 L565.16 212.17 L563.75 213.43 L562.33 214.7 L560.92 215.98 L559.51 217.25 L558.1 218.53 L556.68 219.82 L555.27 221.1 L553.86 222.39 L552.44 223.69 L551.03 224.99 L549.62 226.29 L548.21 227.59 L546.79 228.9 L545.38 230.22 L543.97 231.53 L542.56 232.85 L541.14 234.18 L539.73 235.51 L538.32 236.84 L536.91 238.18 L535.49 239.52 L534.08 240.87 L532.67 242.22 L531.25 243.57 L529.84 244.93 L528.43 246.29 L527.02 247.66 L525.6 249.03 L524.19 250.41 L522.78 251.79 L521.37 253.18 L519.95 254.56 L518.54 255.96 L517.13 257.36 L515.71 258.76 L514.3 260.17 L512.89 261.58 L511.48 263 L510.06 264.42 L508.65 265.85 L507.24 267.28 L505.83 268.72 L504.41 270.16 L503 271.6" fill="none" stroke="#0a0acd" stroke-width="1.7" stroke-linejoin="round"/>
<path d="M503 262.2 L504.88 260.14 L506.77 258.09 L508.65 256.05 L510.53 254.03 L512.42 252.01 L514.3 250.01 L516.19 248.02 L518.07 246.05 L519.95 244.08 L521.84 242.14 L523.72 240.2 L525.6 238.27 L527.49 236.36 L529.37 234.47 L531.25 232.58 L533.14 230.71 L535.02 228.85 L536.91 227 L538.79 225.17 L540.67 223.34 L542.56 221.53 L544.44 219.74 L546.32 217.95 L548.21 216.18 L550.09 214.42 L551.97 212.68 L553.86 210.94 L555.74 209.22 L557.62 207.51 L559.51 205.81 L561.39 204.13 L563.28 202.46 L565.16 200.79 L567.04 199.15 L568.93 197.51 L570.81 195.88 L572.69 194.27 L574.58 192.67 L576.46 191.08 L578.34 189.5 L580.23 187.93 L582.11 186.38 L584 184.83 L585.88 183.3 L587.76 181.78 L589.65 180.27 L591.53 178.77 L593.41 177.28 L595.3 175.8 L597.18 174.33 L599.06 172.88 L600.95 171.43 L602.83 170 L604.72 168.57 L606.6 167.16 L608.48 165.76 L610.37 164.36 L612.25 162.98 L614.13 161.61 L616.02 160.25 L617.9 158.89 L619.78 157.55 L621.67 156.22 L623.55 154.9 L625.44 153.58 L627.32 152.28 L629.2 150.98 L631.09 149.7 L632.97 148.43 L634.85 147.16 L636.74 145.9 L638.62 144.66 L640.5 143.42 L642.39 142.19 L644.27 140.97 L646.15 139.76 L648.04 138.55 L649.92 137.36 L651.81 136.18 L653.69 135 L655.57 133.83 L657.46 132.67 L659.34 131.52 L661.22 130.38 L663.11 129.24 L664.99 128.12 L666.87 127 L668.76 125.89 L670.64 124.79 L672.53 123.69 L674.41 122.61 L676.29 121.53 L678.18 120.46 L680.06 119.39 L681.94 118.34 L683.83 117.29 L685.71 116.25 L687.59 115.21 L689.48 114.19 L689.48 114.19 L687.59 115.55 L685.71 116.92 L683.83 118.3 L681.94 119.68 L680.06 121.06 L678.18 122.44 L676.29 123.83 L674.41 125.22 L672.53 126.61 L670.64 128.01 L668.76 129.41 L666.87 130.82 L664.99 132.23 L663.11 133.64 L661.22 135.06 L659.34 136.48 L657.46 137.9 L655.57 139.33 L653.69 140.76 L651.81 142.19 L649.92 143.63 L648.04 145.08 L646.15 146.52 L644.27 147.97 L642.39 149.43 L640.5 150.89 L638.62 152.35 L636.74 153.82 L634.85 155.29 L632.97 156.76 L631.09 158.24 L629.2 159.73 L627.32 161.22 L625.44 162.71 L623.55 164.21 L621.67 165.71 L619.78 167.22 L617.9 168.73 L616.02 170.24 L614.13 171.76 L612.25 173.29 L610.37 174.82 L608.48 176.35 L606.6 177.89 L604.72 179.44 L602.83 180.99 L600.95 182.54 L599.06 184.1 L597.18 185.67 L595.3 187.24 L593.41 188.82 L591.53 190.4 L589.65 191.99 L587.76 193.58 L585.88 195.18 L584 196.78 L582.11 198.39 L580.23 200.01 L578.34 201.63 L576.46 203.25 L574.58 204.89 L572.69 206.53 L570.81 208.17 L568.93 209.82 L567.04 211.48 L565.16 213.15 L563.28 214.82 L561.39 216.5 L559.51 218.18 L557.62 219.87 L555.74 221.57 L553.86 223.28 L551.97 224.99 L550.09 226.71 L548.21 228.44 L546.32 230.17 L544.44 231.92 L542.56 233.67 L540.67 235.42 L538.79 237.19 L536.91 238.96 L535.02 240.74 L533.14 242.53 L531.25 244.33 L529.37 246.13 L527.49 247.95 L525.6 249.77 L523.72 251.6 L521.84 253.44 L519.95 255.29 L518.07 257.15 L516.19 259.02 L514.3 260.9 L512.42 262.79 L510.53 264.68 L508.65 266.59 L506.77 268.5 L504.88 270.43 L503 272.36" fill="none" stroke="#1464a8" stroke-width="1.7" stroke-linejoin="round"/>
<path d="M503 261.32 L505.12 258.99 L507.24 256.68 L509.36 254.39 L511.48 252.11 L513.6 249.85 L515.71 247.6 L517.83 245.38 L519.95 243.16 L522.07 240.96 L524.19 238.78 L526.31 236.62 L528.43 234.47 L530.55 232.33 L532.67 230.21 L534.79 228.11 L536.91 226.02 L539.02 223.95 L541.14 221.89 L543.26 219.85 L545.38 217.82 L547.5 215.81 L549.62 213.81 L551.74 211.83 L553.86 209.87 L555.98 207.91 L558.1 205.98 L560.21 204.06 L562.33 202.15 L564.45 200.26 L566.57 198.38 L568.69 196.51 L570.81 194.66 L572.93 192.83 L575.05 191.01 L577.17 189.2 L579.29 187.41 L581.41 185.63 L583.52 183.86 L585.64 182.11 L587.76 180.37 L589.88 178.64 L592 176.93 L594.12 175.23 L596.24 173.55 L598.36 171.87 L600.48 170.21 L602.6 168.57 L604.72 166.93 L606.83 165.31 L608.95 163.7 L611.07 162.11 L613.19 160.52 L615.31 158.95 L617.43 157.39 L619.55 155.85 L621.67 154.31 L623.79 152.79 L625.91 151.28 L628.03 149.78 L630.14 148.29 L632.26 146.82 L634.38 145.35 L636.5 143.9 L638.62 142.46 L640.74 141.02 L642.86 139.61 L644.98 138.2 L647.1 136.8 L649.22 135.41 L651.33 134.04 L653.45 132.67 L655.57 131.32 L657.69 129.97 L659.81 128.64 L661.93 127.31 L664.05 126 L666.17 124.7 L668.29 123.41 L670.41 122.12 L672.53 120.85 L674.64 119.59 L676.76 118.33 L678.88 117.09 L681 115.85 L683.12 114.63 L685.24 113.41 L687.36 112.21 L689.48 111.01 L691.6 109.82 L693.72 108.64 L695.84 107.47 L697.95 106.31 L700.07 105.16 L702.19 104.01 L704.31 102.88 L706.43 101.75 L708.55 100.63 L710.67 99.52 L712.79 98.42 L712.79 98.42 L710.67 99.91 L708.55 101.4 L706.43 102.89 L704.31 104.39 L702.19 105.89 L700.07 107.39 L697.95 108.9 L695.84 110.41 L693.72 111.93 L691.6 113.45 L689.48 114.97 L687.36 116.5 L685.24 118.04 L683.12 119.57 L681 121.12 L678.88 122.66 L676.76 124.21 L674.64 125.77 L672.53 127.33 L670.41 128.89 L668.29 130.46 L666.17 132.03 L664.05 133.61 L661.93 135.2 L659.81 136.78 L657.69 138.38 L655.57 139.97 L653.45 141.57 L651.33 143.18 L649.22 144.79 L647.1 146.41 L644.98 148.03 L642.86 149.66 L640.74 151.29 L638.62 152.93 L636.5 154.58 L634.38 156.22 L632.26 157.88 L630.14 159.54 L628.03 161.2 L625.91 162.87 L623.79 164.55 L621.67 166.23 L619.55 167.92 L617.43 169.62 L615.31 171.32 L613.19 173.02 L611.07 174.74 L608.95 176.46 L606.83 178.18 L604.72 179.91 L602.6 181.65 L600.48 183.4 L598.36 185.15 L596.24 186.91 L594.12 188.67 L592 190.45 L589.88 192.22 L587.76 194.01 L585.64 195.81 L583.52 197.61 L581.41 199.41 L579.29 201.23 L577.17 203.05 L575.05 204.89 L572.93 206.73 L570.81 208.57 L568.69 210.43 L566.57 212.29 L564.45 214.16 L562.33 216.04 L560.21 217.93 L558.1 219.83 L555.98 221.74 L553.86 223.65 L551.74 225.58 L549.62 227.51 L547.5 229.46 L545.38 231.41 L543.26 233.37 L541.14 235.35 L539.02 237.33 L536.91 239.32 L534.79 241.33 L532.67 243.34 L530.55 245.37 L528.43 247.4 L526.31 249.45 L524.19 251.51 L522.07 253.57 L519.95 255.66 L517.83 257.75 L515.71 259.85 L513.6 261.97 L511.48 264.1 L509.36 266.24 L507.24 268.4 L505.12 270.56 L503 272.74" fill="none" stroke="#16a89a" stroke-width="1.7" stroke-linejoin="round"/>
<path d="M503 260.43 L505.35 257.84 L507.71 255.27 L510.06 252.73 L512.42 250.2 L514.77 247.69 L517.13 245.2 L519.48 242.73 L521.84 240.28 L524.19 237.85 L526.55 235.44 L528.9 233.04 L531.25 230.67 L533.61 228.31 L535.96 225.97 L538.32 223.66 L540.67 221.35 L543.03 219.07 L545.38 216.81 L547.74 214.56 L550.09 212.33 L552.44 210.12 L554.8 207.93 L557.15 205.75 L559.51 203.59 L561.86 201.45 L564.22 199.33 L566.57 197.22 L568.93 195.13 L571.28 193.06 L573.64 191 L575.99 188.96 L578.34 186.94 L580.7 184.93 L583.05 182.94 L585.41 180.97 L587.76 179.01 L590.12 177.07 L592.47 175.14 L594.83 173.23 L597.18 171.33 L599.54 169.45 L601.89 167.59 L604.24 165.74 L606.6 163.9 L608.95 162.08 L611.31 160.28 L613.66 158.49 L616.02 156.71 L618.37 154.95 L620.73 153.2 L623.08 151.47 L625.44 149.75 L627.79 148.05 L630.14 146.36 L632.5 144.68 L634.85 143.02 L637.21 141.37 L639.56 139.73 L641.92 138.11 L644.27 136.5 L646.63 134.9 L648.98 133.32 L651.33 131.75 L653.69 130.19 L656.04 128.65 L658.4 127.12 L660.75 125.6 L663.11 124.09 L665.46 122.59 L667.82 121.11 L670.17 119.64 L672.53 118.18 L674.88 116.73 L677.23 115.3 L679.59 113.87 L681.94 112.46 L684.3 111.06 L686.65 109.67 L689.01 108.29 L691.36 106.92 L693.72 105.57 L696.07 104.22 L698.43 102.89 L700.78 101.57 L703.13 100.25 L705.49 98.95 L707.84 97.66 L710.2 96.38 L712.55 95.11 L714.91 93.85 L717.26 92.6 L719.62 91.36 L721.97 90.12 L724.33 88.9 L726.68 87.69 L729.03 86.49 L731.39 85.3 L733.74 84.12 L736.1 82.95 L736.1 82.95 L733.74 84.54 L731.39 86.15 L729.03 87.76 L726.68 89.37 L724.33 90.98 L721.97 92.61 L719.62 94.23 L717.26 95.86 L714.91 97.5 L712.55 99.14 L710.2 100.78 L707.84 102.43 L705.49 104.09 L703.13 105.75 L700.78 107.41 L698.43 109.08 L696.07 110.76 L693.72 112.44 L691.36 114.12 L689.01 115.81 L686.65 117.51 L684.3 119.21 L681.94 120.92 L679.59 122.63 L677.23 124.35 L674.88 126.07 L672.53 127.8 L670.17 129.53 L667.82 131.27 L665.46 133.02 L663.11 134.77 L660.75 136.52 L658.4 138.29 L656.04 140.06 L653.69 141.83 L651.33 143.61 L648.98 145.4 L646.63 147.2 L644.27 149 L641.92 150.8 L639.56 152.62 L637.21 154.44 L634.85 156.27 L632.5 158.1 L630.14 159.94 L627.79 161.79 L625.44 163.64 L623.08 165.51 L620.73 167.37 L618.37 169.25 L616.02 171.14 L613.66 173.03 L611.31 174.93 L608.95 176.83 L606.6 178.75 L604.24 180.67 L601.89 182.6 L599.54 184.54 L597.18 186.49 L594.83 188.45 L592.47 190.41 L590.12 192.39 L587.76 194.37 L585.41 196.36 L583.05 198.36 L580.7 200.37 L578.34 202.39 L575.99 204.42 L573.64 206.46 L571.28 208.51 L568.93 210.57 L566.57 212.64 L564.22 214.72 L561.86 216.81 L559.51 218.91 L557.15 221.03 L554.8 223.15 L552.44 225.28 L550.09 227.43 L547.74 229.59 L545.38 231.76 L543.03 233.94 L540.67 236.13 L538.32 238.34 L535.96 240.56 L533.61 242.79 L531.25 245.04 L528.9 247.3 L526.55 249.57 L524.19 251.86 L521.84 254.16 L519.48 256.48 L517.13 258.81 L514.77 261.16 L512.42 263.52 L510.06 265.9 L507.71 268.29 L505.35 270.7 L503 273.12" fill="none" stroke="#12a818" stroke-width="1.7" stroke-linejoin="round"/>
<path d="M503 259.98 L505.47 257.26 L507.94 254.57 L510.42 251.89 L512.89 249.24 L515.36 246.61 L517.83 244 L520.31 241.41 L522.78 238.84 L525.25 236.29 L527.72 233.77 L530.19 231.26 L532.67 228.77 L535.14 226.31 L537.61 223.86 L540.08 221.43 L542.56 219.03 L545.03 216.64 L547.5 214.27 L549.97 211.93 L552.44 209.6 L554.92 207.29 L557.39 205 L559.86 202.72 L562.33 200.47 L564.81 198.24 L567.28 196.02 L569.75 193.82 L572.22 191.64 L574.7 189.48 L577.17 187.33 L579.64 185.21 L582.11 183.1 L584.58 181.01 L587.06 178.93 L589.53 176.88 L592 174.84 L594.47 172.81 L596.95 170.81 L599.42 168.82 L601.89 166.84 L604.36 164.89 L606.83 162.95 L609.31 161.02 L611.78 159.11 L614.25 157.22 L616.72 155.35 L619.2 153.48 L621.67 151.64 L624.14 149.81 L626.61 147.99 L629.08 146.19 L631.56 144.41 L634.03 142.64 L636.5 140.88 L638.97 139.14 L641.45 137.42 L643.92 135.7 L646.39 134.01 L648.86 132.32 L651.33 130.65 L653.81 129 L656.28 127.35 L658.75 125.73 L661.22 124.11 L663.7 122.51 L666.17 120.92 L668.64 119.35 L671.11 117.78 L673.59 116.24 L676.06 114.7 L678.53 113.18 L681 111.67 L683.47 110.17 L685.95 108.68 L688.42 107.21 L690.89 105.75 L693.36 104.3 L695.84 102.86 L698.31 101.44 L700.78 100.02 L703.25 98.62 L705.72 97.23 L708.2 95.85 L710.67 94.49 L713.14 93.13 L715.61 91.79 L718.09 90.45 L720.56 89.13 L723.03 87.82 L725.5 86.52 L727.97 85.23 L730.45 83.95 L732.92 82.68 L735.39 81.42 L737.86 80.17 L740.34 78.94 L742.81 77.71 L745.28 76.49 L747.75 75.28 L747.75 75.28 L745.28 76.94 L742.81 78.6 L740.34 80.26 L737.86 81.93 L735.39 83.61 L732.92 85.29 L730.45 86.97 L727.97 88.66 L725.5 90.35 L723.03 92.05 L720.56 93.76 L718.09 95.47 L715.61 97.18 L713.14 98.9 L710.67 100.63 L708.2 102.36 L705.72 104.09 L703.25 105.84 L700.78 107.58 L698.31 109.34 L695.84 111.09 L693.36 112.86 L690.89 114.63 L688.42 116.4 L685.95 118.18 L683.47 119.97 L681 121.76 L678.53 123.56 L676.06 125.37 L673.59 127.18 L671.11 129 L668.64 130.82 L666.17 132.65 L663.7 134.49 L661.22 136.33 L658.75 138.18 L656.28 140.04 L653.81 141.9 L651.33 143.77 L648.86 145.65 L646.39 147.53 L643.92 149.43 L641.45 151.32 L638.97 153.23 L636.5 155.14 L634.03 157.06 L631.56 158.99 L629.08 160.93 L626.61 162.87 L624.14 164.82 L621.67 166.78 L619.2 168.75 L616.72 170.73 L614.25 172.71 L611.78 174.7 L609.31 176.7 L606.83 178.72 L604.36 180.73 L601.89 182.76 L599.42 184.8 L596.95 186.85 L594.47 188.9 L592 190.97 L589.53 193.04 L587.06 195.13 L584.58 197.22 L582.11 199.33 L579.64 201.44 L577.17 203.57 L574.7 205.7 L572.22 207.85 L569.75 210.01 L567.28 212.18 L564.81 214.36 L562.33 216.56 L559.86 218.76 L557.39 220.98 L554.92 223.21 L552.44 225.45 L549.97 227.7 L547.5 229.97 L545.03 232.25 L542.56 234.55 L540.08 236.86 L537.61 239.18 L535.14 241.51 L532.67 243.86 L530.19 246.23 L527.72 248.61 L525.25 251.01 L522.78 253.42 L520.31 255.85 L517.83 258.29 L515.36 260.75 L512.89 263.23 L510.42 265.72 L507.94 268.24 L505.47 270.77 L503 273.32" fill="none" stroke="#8ca010" stroke-width="1.7" stroke-linejoin="round"/>
<path d="M503 259.54 L505.59 256.69 L508.18 253.86 L510.77 251.06 L513.36 248.29 L515.95 245.53 L518.54 242.8 L521.13 240.09 L523.72 237.4 L526.31 234.74 L528.9 232.1 L531.49 229.48 L534.08 226.88 L536.67 224.3 L539.26 221.75 L541.85 219.22 L544.44 216.7 L547.03 214.21 L549.62 211.74 L552.21 209.29 L554.8 206.87 L557.39 204.46 L559.98 202.07 L562.57 199.7 L565.16 197.35 L567.75 195.03 L570.34 192.72 L572.93 190.43 L575.52 188.16 L578.11 185.91 L580.7 183.68 L583.29 181.46 L585.88 179.27 L588.47 177.09 L591.06 174.94 L593.65 172.8 L596.24 170.68 L598.83 168.57 L601.42 166.49 L604.01 164.42 L606.6 162.37 L609.19 160.34 L611.78 158.32 L614.37 156.32 L616.96 154.34 L619.55 152.38 L622.14 150.43 L624.73 148.5 L627.32 146.58 L629.91 144.68 L632.5 142.8 L635.09 140.93 L637.68 139.08 L640.27 137.25 L642.86 135.43 L645.45 133.62 L648.04 131.83 L650.63 130.06 L653.22 128.3 L655.81 126.56 L658.4 124.83 L660.99 123.11 L663.58 121.41 L666.17 119.73 L668.76 118.05 L671.35 116.4 L673.94 114.75 L676.53 113.12 L679.12 111.51 L681.71 109.91 L684.3 108.32 L686.89 106.74 L689.48 105.18 L692.07 103.63 L694.66 102.1 L697.25 100.57 L699.84 99.07 L702.43 97.57 L705.02 96.08 L707.61 94.61 L710.2 93.15 L712.79 91.71 L715.38 90.27 L717.97 88.85 L720.56 87.44 L723.15 86.04 L725.74 84.65 L728.33 83.28 L730.92 81.92 L733.51 80.56 L736.1 79.22 L738.69 77.89 L741.28 76.58 L743.87 75.27 L746.46 73.97 L749.05 72.69 L751.64 71.41 L754.23 70.15 L756.82 68.9 L759.41 67.65 L759.41 67.65 L756.82 69.37 L754.23 71.08 L751.64 72.8 L749.05 74.53 L746.46 76.26 L743.87 78 L741.28 79.74 L738.69 81.49 L736.1 83.24 L733.51 85 L730.92 86.76 L728.33 88.53 L725.74 90.31 L723.15 92.09 L720.56 93.87 L717.97 95.66 L715.38 97.46 L712.79 99.26 L710.2 101.07 L707.61 102.89 L705.02 104.71 L702.43 106.53 L699.84 108.37 L697.25 110.21 L694.66 112.05 L692.07 113.9 L689.48 115.76 L686.89 117.62 L684.3 119.5 L681.71 121.37 L679.12 123.26 L676.53 125.15 L673.94 127.04 L671.35 128.95 L668.76 130.86 L666.17 132.78 L663.58 134.7 L660.99 136.63 L658.4 138.57 L655.81 140.52 L653.22 142.47 L650.63 144.44 L648.04 146.41 L645.45 148.38 L642.86 150.37 L640.27 152.36 L637.68 154.36 L635.09 156.37 L632.5 158.39 L629.91 160.41 L627.32 162.45 L624.73 164.49 L622.14 166.54 L619.55 168.6 L616.96 170.67 L614.37 172.75 L611.78 174.84 L609.19 176.94 L606.6 179.05 L604.01 181.16 L601.42 183.29 L598.83 185.43 L596.24 187.57 L593.65 189.73 L591.06 191.9 L588.47 194.08 L585.88 196.27 L583.29 198.47 L580.7 200.68 L578.11 202.91 L575.52 205.14 L572.93 207.39 L570.34 209.65 L567.75 211.92 L565.16 214.21 L562.57 216.5 L559.98 218.81 L557.39 221.14 L554.8 223.47 L552.21 225.83 L549.62 228.19 L547.03 230.57 L544.44 232.96 L541.85 235.37 L539.26 237.8 L536.67 240.23 L534.08 242.69 L531.49 245.16 L528.9 247.65 L526.31 250.15 L523.72 252.67 L521.13 255.21 L518.54 257.77 L515.95 260.35 L513.36 262.94 L510.77 265.55 L508.18 268.18 L505.59 270.83 L503 273.51" fill="none" stroke="#b86408" stroke-width="1.7" stroke-linejoin="round"/>
<path d="M503 259.08 L505.71 256.1 L508.42 253.15 L511.13 250.22 L513.84 247.31 L516.55 244.43 L519.26 241.57 L521.97 238.74 L524.68 235.94 L527.39 233.16 L530.1 230.4 L532.81 227.66 L535.52 224.95 L538.23 222.26 L540.94 219.6 L543.65 216.96 L546.36 214.34 L549.07 211.74 L551.78 209.17 L554.49 206.62 L557.2 204.09 L559.91 201.58 L562.62 199.09 L565.33 196.63 L568.04 194.18 L570.75 191.76 L573.46 189.36 L576.17 186.98 L578.88 184.61 L581.59 182.27 L584.3 179.95 L587.01 177.65 L589.72 175.37 L592.43 173.11 L595.14 170.87 L597.85 168.65 L600.56 166.45 L603.27 164.26 L605.98 162.1 L608.69 159.95 L611.4 157.82 L614.11 155.71 L616.82 153.62 L619.53 151.55 L622.24 149.49 L624.95 147.45 L627.66 145.43 L630.37 143.43 L633.08 141.44 L635.79 139.47 L638.5 137.52 L641.21 135.59 L643.92 133.67 L646.63 131.77 L649.34 129.88 L652.05 128.01 L654.76 126.16 L657.47 124.32 L660.18 122.5 L662.89 120.69 L665.6 118.9 L668.31 117.13 L671.02 115.37 L673.73 113.63 L676.44 111.9 L679.15 110.18 L681.86 108.48 L684.57 106.8 L687.28 105.13 L689.99 103.47 L692.7 101.83 L695.41 100.2 L698.12 98.59 L700.83 96.99 L703.54 95.4 L706.25 93.83 L708.96 92.27 L711.67 90.73 L714.38 89.19 L717.09 87.67 L719.8 86.17 L722.51 84.68 L725.22 83.2 L727.93 81.73 L730.64 80.27 L733.35 78.83 L736.06 77.4 L738.77 75.99 L741.48 74.58 L744.19 73.19 L746.9 71.81 L749.62 70.44 L752.33 69.08 L755.04 67.73 L757.75 66.4 L760.46 65.08 L763.17 63.77 L765.88 62.47 L768.59 61.18 L771.3 59.9 L771.3 59.9 L768.59 61.67 L765.88 63.44 L763.17 65.22 L760.46 67.01 L757.75 68.8 L755.04 70.59 L752.33 72.39 L749.62 74.2 L746.9 76.01 L744.19 77.83 L741.48 79.65 L738.77 81.48 L736.06 83.32 L733.35 85.16 L730.64 87.01 L727.93 88.86 L725.22 90.72 L722.51 92.58 L719.8 94.46 L717.09 96.33 L714.38 98.22 L711.67 100.11 L708.96 102 L706.25 103.91 L703.54 105.82 L700.83 107.73 L698.12 109.66 L695.41 111.59 L692.7 113.53 L689.99 115.47 L687.28 117.42 L684.57 119.38 L681.86 121.34 L679.15 123.31 L676.44 125.29 L673.73 127.28 L671.02 129.28 L668.31 131.28 L665.6 133.29 L662.89 135.31 L660.18 137.33 L657.47 139.36 L654.76 141.41 L652.05 143.46 L649.34 145.51 L646.63 147.58 L643.92 149.66 L641.21 151.74 L638.5 153.83 L635.79 155.93 L633.08 158.04 L630.37 160.16 L627.66 162.29 L624.95 164.43 L622.24 166.58 L619.53 168.74 L616.82 170.9 L614.11 173.08 L611.4 175.27 L608.69 177.47 L605.98 179.68 L603.27 181.9 L600.56 184.13 L597.85 186.37 L595.14 188.62 L592.43 190.89 L589.72 193.16 L587.01 195.45 L584.3 197.75 L581.59 200.06 L578.88 202.39 L576.17 204.72 L573.46 207.07 L570.75 209.44 L568.04 211.82 L565.33 214.21 L562.62 216.61 L559.91 219.03 L557.2 221.46 L554.49 223.91 L551.78 226.38 L549.07 228.86 L546.36 231.35 L543.65 233.86 L540.94 236.39 L538.23 238.93 L535.52 241.49 L532.81 244.07 L530.1 246.67 L527.39 249.28 L524.68 251.92 L521.97 254.57 L519.26 257.24 L516.55 259.93 L513.84 262.64 L511.13 265.37 L508.42 268.13 L505.71 270.9 L503 273.7" fill="none" stroke="#c01810" stroke-width="1.7" stroke-linejoin="round"/>
<path d="M503 30.1 L806.4 30.1 L806.4 273.7" fill="none" stroke="#000" stroke-width="1.9" stroke-linejoin="round" stroke-linecap="square"/>
<path d="M503 30.1 L503 273.7 L806.4 273.7" fill="none" stroke="#000" stroke-width="2.2" stroke-linejoin="round" stroke-linecap="square"/>
<line x1="503" y1="273.7" x2="503" y2="268.9" stroke="#000" stroke-width="1.9"/>
<text x="503" y="292.3" font-size="17.3" text-anchor="middle" font-weight="bold" fill="#000">0</text>
<line x1="549.62" y1="273.7" x2="549.62" y2="268.9" stroke="#000" stroke-width="1.9"/>
<text x="549.62" y="292.3" font-size="17.3" text-anchor="middle" font-weight="bold" fill="#000">100</text>
<line x1="596.24" y1="273.7" x2="596.24" y2="268.9" stroke="#000" stroke-width="1.9"/>
<text x="596.24" y="292.3" font-size="17.3" text-anchor="middle" font-weight="bold" fill="#000">200</text>
<line x1="642.86" y1="273.7" x2="642.86" y2="268.9" stroke="#000" stroke-width="1.9"/>
<text x="642.86" y="292.3" font-size="17.3" text-anchor="middle" font-weight="bold" fill="#000">300</text>
<line x1="689.48" y1="273.7" x2="689.48" y2="268.9" stroke="#000" stroke-width="1.9"/>
<text x="689.48" y="292.3" font-size="17.3" text-anchor="middle" font-weight="bold" fill="#000">400</text>
<line x1="736.1" y1="273.7" x2="736.1" y2="268.9" stroke="#000" stroke-width="1.9"/>
<text x="736.1" y="292.3" font-size="17.3" text-anchor="middle" font-weight="bold" fill="#000">500</text>
<line x1="782.72" y1="273.7" x2="782.72" y2="268.9" stroke="#000" stroke-width="1.9"/>
<text x="782.72" y="292.3" font-size="17.3" text-anchor="middle" font-weight="bold" fill="#000">600</text>
<line x1="526.31" y1="273.7" x2="526.31" y2="271.5" stroke="#000" stroke-width="1.9"/>
<line x1="572.93" y1="273.7" x2="572.93" y2="271.5" stroke="#000" stroke-width="1.9"/>
<line x1="619.55" y1="273.7" x2="619.55" y2="271.5" stroke="#000" stroke-width="1.9"/>
<line x1="666.17" y1="273.7" x2="666.17" y2="271.5" stroke="#000" stroke-width="1.9"/>
<line x1="712.79" y1="273.7" x2="712.79" y2="271.5" stroke="#000" stroke-width="1.9"/>
<line x1="759.41" y1="273.7" x2="759.41" y2="271.5" stroke="#000" stroke-width="1.9"/>
<line x1="806.03" y1="273.7" x2="806.03" y2="271.5" stroke="#000" stroke-width="1.9"/>
<line x1="503" y1="273.7" x2="507.8" y2="273.7" stroke="#000" stroke-width="1.9"/>
<text x="497.8" y="277.94" font-size="17.3" text-anchor="end" font-weight="bold" fill="#000">0</text>
<line x1="503" y1="233.1" x2="507.8" y2="233.1" stroke="#000" stroke-width="1.9"/>
<text x="497.8" y="237.34" font-size="17.3" text-anchor="end" font-weight="bold" fill="#000">5</text>
<line x1="503" y1="192.5" x2="507.8" y2="192.5" stroke="#000" stroke-width="1.9"/>
<text x="497.8" y="196.74" font-size="17.3" text-anchor="end" font-weight="bold" fill="#000">10</text>
<line x1="503" y1="151.9" x2="507.8" y2="151.9" stroke="#000" stroke-width="1.9"/>
<text x="497.8" y="156.14" font-size="17.3" text-anchor="end" font-weight="bold" fill="#000">15</text>
<line x1="503" y1="111.3" x2="507.8" y2="111.3" stroke="#000" stroke-width="1.9"/>
<text x="497.8" y="115.54" font-size="17.3" text-anchor="end" font-weight="bold" fill="#000">20</text>
<line x1="503" y1="70.7" x2="507.8" y2="70.7" stroke="#000" stroke-width="1.9"/>
<text x="497.8" y="74.94" font-size="17.3" text-anchor="end" font-weight="bold" fill="#000">25</text>
<text x="497.8" y="34.34" font-size="17.3" text-anchor="end" font-weight="bold" fill="#000">30</text>
<line x1="503" y1="253.4" x2="505.2" y2="253.4" stroke="#000" stroke-width="1.9"/>
<line x1="503" y1="212.8" x2="505.2" y2="212.8" stroke="#000" stroke-width="1.9"/>
<line x1="503" y1="172.2" x2="505.2" y2="172.2" stroke="#000" stroke-width="1.9"/>
<line x1="503" y1="131.6" x2="505.2" y2="131.6" stroke="#000" stroke-width="1.9"/>
<line x1="503" y1="91" x2="505.2" y2="91" stroke="#000" stroke-width="1.9"/>
<line x1="503" y1="50.4" x2="505.2" y2="50.4" stroke="#000" stroke-width="1.9"/>
<text x="654.5" y="318.7" font-size="23" text-anchor="middle" font-weight="bold" fill="#000">Electric field (kV/cm)</text>
<text x="472.3" y="152.7" font-size="23" text-anchor="middle" font-weight="bold" fill="#000" transform="rotate(-90 472.3 152.7)">P (μC/cm<tspan dy="-9" font-size="14.5">2</tspan><tspan dy="9">&#8203;</tspan>)</text>
<rect x="520.5" y="68.8" width="131.1" height="52.8" fill="#7f7f7f" stroke="none" stroke-width="1.5"/>
<rect x="517.5" y="65.8" width="131.1" height="52.8" fill="#ffffff" stroke="#b4b4b4" stroke-width="0.8"/>
<text x="520.5" y="85.4" font-size="17" text-anchor="start" font-weight="bold" fill="#000">W<tspan dy="4" font-size="11">rec</tspan><tspan dy="-4">&#8203;</tspan>=5.895 J/cm<tspan dy="-7" font-size="11">3</tspan><tspan dy="7">&#8203;</tspan></text>
<text x="579.5" y="112.6" font-size="17" text-anchor="middle" font-weight="bold" fill="#000">η=85.37%</text>
<line x1="692" y1="122.1" x2="726.5" y2="122.1" stroke="#6a1fd0" stroke-width="1.8"/>
<text x="730.5" y="126.9" font-size="14.5" text-anchor="start" font-weight="bold" fill="#000">200 kV/cm</text>
<line x1="692" y1="140.92" x2="726.5" y2="140.92" stroke="#0a0acd" stroke-width="1.8"/>
<text x="730.5" y="145.72" font-size="14.5" text-anchor="start" font-weight="bold" fill="#000">300 kV/cm</text>
<line x1="692" y1="159.74" x2="726.5" y2="159.74" stroke="#1464a8" stroke-width="1.8"/>
<text x="730.5" y="164.54" font-size="14.5" text-anchor="start" font-weight="bold" fill="#000">400 kV/cm</text>
<line x1="692" y1="178.56" x2="726.5" y2="178.56" stroke="#16a89a" stroke-width="1.8"/>
<text x="730.5" y="183.36" font-size="14.5" text-anchor="start" font-weight="bold" fill="#000">450 kV/cm</text>
<line x1="692" y1="197.38" x2="726.5" y2="197.38" stroke="#12a818" stroke-width="1.8"/>
<text x="730.5" y="202.18" font-size="14.5" text-anchor="start" font-weight="bold" fill="#000">500 kV/cm</text>
<line x1="692" y1="216.2" x2="726.5" y2="216.2" stroke="#8ca010" stroke-width="1.8"/>
<text x="730.5" y="221" font-size="14.5" text-anchor="start" font-weight="bold" fill="#000">525 kV/cm</text>
<line x1="692" y1="235.02" x2="726.5" y2="235.02" stroke="#b86408" stroke-width="1.8"/>
<text x="730.5" y="239.82" font-size="14.5" text-anchor="start" font-weight="bold" fill="#000">550 kV/cm</text>
<line x1="692" y1="253.84" x2="726.5" y2="253.84" stroke="#c01810" stroke-width="1.8"/>
<text x="730.5" y="258.64" font-size="14.5" text-anchor="start" font-weight="bold" fill="#000">574 kV/cm</text>
</g>
<g id="panel-c">
<text x="844.6" y="40.3" font-size="25.3" text-anchor="start" font-weight="bold" fill="#000">(c)</text>
<rect x="906.2" y="257.2" width="22.8" height="16.5" fill="url(#cb0)" stroke="none" stroke-width="1.5"/>
<rect x="944.4" y="220.8" width="22.8" height="52.9" fill="url(#cb1)" stroke="none" stroke-width="1.5"/>
<rect x="982.5" y="175.91" width="22.8" height="97.79" fill="url(#cb2)" stroke="none" stroke-width="1.5"/>
<rect x="1020.3" y="151.9" width="22.8" height="121.8" fill="url(#cb3)" stroke="none" stroke-width="1.5"/>
<rect x="1058" y="126.15" width="22.8" height="147.55" fill="url(#cb4)" stroke="none" stroke-width="1.5"/>
<rect x="1095.8" y="112.92" width="22.8" height="160.78" fill="url(#cb5)" stroke="none" stroke-width="1.5"/>
<rect x="1133.6" y="99" width="22.8" height="174.7" fill="url(#cb6)" stroke="none" stroke-width="1.5"/>
<rect x="1171.6" y="85.95" width="22.8" height="187.75" fill="url(#cb7)" stroke="none" stroke-width="1.5"/>
<line x1="929.05" y1="46.52" x2="944.35" y2="47.88" stroke="#7a1cf0" stroke-width="2"/>
<line x1="967.23" y1="50.16" x2="982.47" y2="51.84" stroke="#1010d0" stroke-width="2"/>
<line x1="1005.39" y1="53.65" x2="1020.21" y2="54.35" stroke="#1068b0" stroke-width="2"/>
<line x1="1043.18" y1="55.57" x2="1057.92" y2="56.43" stroke="#18a898" stroke-width="2"/>
<line x1="1080.9" y1="57.16" x2="1095.7" y2="57.24" stroke="#10a818" stroke-width="2"/>
<line x1="1118.7" y1="57.39" x2="1133.5" y2="57.51" stroke="#88a010" stroke-width="2"/>
<line x1="1156.47" y1="56.78" x2="1171.53" y2="55.72" stroke="#b06008" stroke-width="2"/>
<circle cx="917.6" cy="45.5" r="7.9" fill="#7a1cf0"/>
<circle cx="917.6" cy="45.5" r="7.9" fill="url(#cs0)"/>
<circle cx="955.8" cy="48.9" r="7.9" fill="#1010d0"/>
<circle cx="955.8" cy="48.9" r="7.9" fill="url(#cs1)"/>
<circle cx="993.9" cy="53.1" r="7.9" fill="#1068b0"/>
<circle cx="993.9" cy="53.1" r="7.9" fill="url(#cs2)"/>
<circle cx="1031.7" cy="54.9" r="7.9" fill="#18a898"/>
<circle cx="1031.7" cy="54.9" r="7.9" fill="url(#cs3)"/>
<circle cx="1069.4" cy="57.1" r="7.9" fill="#10a818"/>
<circle cx="1069.4" cy="57.1" r="7.9" fill="url(#cs4)"/>
<circle cx="1107.2" cy="57.3" r="7.9" fill="#88a010"/>
<circle cx="1107.2" cy="57.3" r="7.9" fill="url(#cs5)"/>
<circle cx="1145" cy="57.6" r="7.9" fill="#b06008"/>
<circle cx="1145" cy="57.6" r="7.9" fill="url(#cs6)"/>
<circle cx="1183" cy="54.9" r="7.9" fill="#b82010"/>
<circle cx="1183" cy="54.9" r="7.9" fill="url(#cs7)"/>
<path d="M1181.5 65.1 C1182.6 69 1184 72.3 1185.8 73.2 C1187.2 73.2 1189 71.6 1190.8 69.8" fill="none" stroke="#900c0c" stroke-width="1.7"/>
<path d="M1196.5 58.5 L1194.2 71.6 L1188 67.8 Z" fill="#900c0c"/>
<path d="M899.3 30.1 L1202.2 30.1" fill="none" stroke="#000" stroke-width="1.9" stroke-linejoin="round" stroke-linecap="square"/>
<path d="M899.3 30.1 L899.3 273.7 L1202.2 273.7 L1202.2 30.1" fill="none" stroke="#000" stroke-width="2.2" stroke-linejoin="round" stroke-linecap="square"/>
<line x1="917.6" y1="273.7" x2="917.6" y2="269.1" stroke="#000" stroke-width="1.9"/>
<text x="917.6" y="293" font-size="17.3" text-anchor="middle" font-weight="bold" fill="#000">200</text>
<line x1="955.8" y1="273.7" x2="955.8" y2="269.1" stroke="#000" stroke-width="1.9"/>
<text x="955.8" y="293" font-size="17.3" text-anchor="middle" font-weight="bold" fill="#000">300</text>
<line x1="993.9" y1="273.7" x2="993.9" y2="269.1" stroke="#000" stroke-width="1.9"/>
<text x="993.9" y="293" font-size="17.3" text-anchor="middle" font-weight="bold" fill="#000">400</text>
<line x1="1031.7" y1="273.7" x2="1031.7" y2="269.1" stroke="#000" stroke-width="1.9"/>
<text x="1031.7" y="293" font-size="17.3" text-anchor="middle" font-weight="bold" fill="#000">450</text>
<line x1="1069.4" y1="273.7" x2="1069.4" y2="269.1" stroke="#000" stroke-width="1.9"/>
<text x="1069.4" y="293" font-size="17.3" text-anchor="middle" font-weight="bold" fill="#000">500</text>
<line x1="1107.2" y1="273.7" x2="1107.2" y2="269.1" stroke="#000" stroke-width="1.9"/>
<text x="1107.2" y="293" font-size="17.3" text-anchor="middle" font-weight="bold" fill="#000">525</text>
<line x1="1145" y1="273.7" x2="1145" y2="269.1" stroke="#000" stroke-width="1.9"/>
<text x="1145" y="293" font-size="17.3" text-anchor="middle" font-weight="bold" fill="#000">550</text>
<line x1="1183" y1="273.7" x2="1183" y2="269.1" stroke="#000" stroke-width="1.9"/>
<text x="1183" y="293" font-size="17.3" text-anchor="middle" font-weight="bold" fill="#000">574</text>
<line x1="936.7" y1="273.7" x2="936.7" y2="271.5" stroke="#000" stroke-width="1.9"/>
<line x1="974.85" y1="273.7" x2="974.85" y2="271.5" stroke="#000" stroke-width="1.9"/>
<line x1="1012.8" y1="273.7" x2="1012.8" y2="271.5" stroke="#000" stroke-width="1.9"/>
<line x1="1050.55" y1="273.7" x2="1050.55" y2="271.5" stroke="#000" stroke-width="1.9"/>
<line x1="1088.3" y1="273.7" x2="1088.3" y2="271.5" stroke="#000" stroke-width="1.9"/>
<line x1="1126.1" y1="273.7" x2="1126.1" y2="271.5" stroke="#000" stroke-width="1.9"/>
<line x1="1164" y1="273.7" x2="1164" y2="271.5" stroke="#000" stroke-width="1.9"/>
<line x1="899.3" y1="256.3" x2="904.1" y2="256.3" stroke="#000" stroke-width="1.9"/>
<text x="893.9" y="261.14" font-size="17.3" text-anchor="end" font-weight="bold" fill="#000">1</text>
<line x1="899.3" y1="221.5" x2="904.1" y2="221.5" stroke="#000" stroke-width="1.9"/>
<text x="893.9" y="226.34" font-size="17.3" text-anchor="end" font-weight="bold" fill="#000">2</text>
<line x1="899.3" y1="186.7" x2="904.1" y2="186.7" stroke="#000" stroke-width="1.9"/>
<text x="893.9" y="191.54" font-size="17.3" text-anchor="end" font-weight="bold" fill="#000">3</text>
<line x1="899.3" y1="151.9" x2="904.1" y2="151.9" stroke="#000" stroke-width="1.9"/>
<text x="893.9" y="156.74" font-size="17.3" text-anchor="end" font-weight="bold" fill="#000">4</text>
<line x1="899.3" y1="117.1" x2="904.1" y2="117.1" stroke="#000" stroke-width="1.9"/>
<text x="893.9" y="121.94" font-size="17.3" text-anchor="end" font-weight="bold" fill="#000">5</text>
<line x1="899.3" y1="82.3" x2="904.1" y2="82.3" stroke="#000" stroke-width="1.9"/>
<text x="893.9" y="87.14" font-size="17.3" text-anchor="end" font-weight="bold" fill="#000">6</text>
<line x1="899.3" y1="47.5" x2="904.1" y2="47.5" stroke="#000" stroke-width="1.9"/>
<text x="893.9" y="52.34" font-size="17.3" text-anchor="end" font-weight="bold" fill="#000">7</text>
<line x1="899.3" y1="273.7" x2="901.5" y2="273.7" stroke="#000" stroke-width="1.9"/>
<line x1="899.3" y1="238.9" x2="901.5" y2="238.9" stroke="#000" stroke-width="1.9"/>
<line x1="899.3" y1="204.1" x2="901.5" y2="204.1" stroke="#000" stroke-width="1.9"/>
<line x1="899.3" y1="169.3" x2="901.5" y2="169.3" stroke="#000" stroke-width="1.9"/>
<line x1="899.3" y1="134.5" x2="901.5" y2="134.5" stroke="#000" stroke-width="1.9"/>
<line x1="899.3" y1="99.7" x2="901.5" y2="99.7" stroke="#000" stroke-width="1.9"/>
<line x1="899.3" y1="64.9" x2="901.5" y2="64.9" stroke="#000" stroke-width="1.9"/>
<line x1="1202.2" y1="274" x2="1197.6" y2="274" stroke="#000" stroke-width="1.9"/>
<text x="1207.5" y="279" font-size="17.3" text-anchor="start" font-weight="bold" fill="#000">0</text>
<line x1="1202.2" y1="248.35" x2="1197.6" y2="248.35" stroke="#000" stroke-width="1.9"/>
<text x="1207.5" y="253.35" font-size="17.3" text-anchor="start" font-weight="bold" fill="#000">10</text>
<line x1="1202.2" y1="222.71" x2="1197.6" y2="222.71" stroke="#000" stroke-width="1.9"/>
<text x="1207.5" y="227.71" font-size="17.3" text-anchor="start" font-weight="bold" fill="#000">20</text>
<line x1="1202.2" y1="197.06" x2="1197.6" y2="197.06" stroke="#000" stroke-width="1.9"/>
<text x="1207.5" y="202.06" font-size="17.3" text-anchor="start" font-weight="bold" fill="#000">30</text>
<line x1="1202.2" y1="171.41" x2="1197.6" y2="171.41" stroke="#000" stroke-width="1.9"/>
<text x="1207.5" y="176.41" font-size="17.3" text-anchor="start" font-weight="bold" fill="#000">40</text>
<line x1="1202.2" y1="145.77" x2="1197.6" y2="145.77" stroke="#000" stroke-width="1.9"/>
<text x="1207.5" y="150.77" font-size="17.3" text-anchor="start" font-weight="bold" fill="#000">50</text>
<line x1="1202.2" y1="120.12" x2="1197.6" y2="120.12" stroke="#000" stroke-width="1.9"/>
<text x="1207.5" y="125.12" font-size="17.3" text-anchor="start" font-weight="bold" fill="#000">60</text>
<line x1="1202.2" y1="94.47" x2="1197.6" y2="94.47" stroke="#000" stroke-width="1.9"/>
<text x="1207.5" y="99.47" font-size="17.3" text-anchor="start" font-weight="bold" fill="#000">70</text>
<line x1="1202.2" y1="68.83" x2="1197.6" y2="68.83" stroke="#000" stroke-width="1.9"/>
<text x="1207.5" y="73.83" font-size="17.3" text-anchor="start" font-weight="bold" fill="#000">80</text>
<line x1="1202.2" y1="43.18" x2="1197.6" y2="43.18" stroke="#000" stroke-width="1.9"/>
<text x="1207.5" y="48.18" font-size="17.3" text-anchor="start" font-weight="bold" fill="#000">90</text>
<line x1="1202.2" y1="261.18" x2="1200" y2="261.18" stroke="#000" stroke-width="1.9"/>
<line x1="1202.2" y1="235.53" x2="1200" y2="235.53" stroke="#000" stroke-width="1.9"/>
<line x1="1202.2" y1="209.88" x2="1200" y2="209.88" stroke="#000" stroke-width="1.9"/>
<line x1="1202.2" y1="184.24" x2="1200" y2="184.24" stroke="#000" stroke-width="1.9"/>
<line x1="1202.2" y1="158.59" x2="1200" y2="158.59" stroke="#000" stroke-width="1.9"/>
<line x1="1202.2" y1="132.94" x2="1200" y2="132.94" stroke="#000" stroke-width="1.9"/>
<line x1="1202.2" y1="107.3" x2="1200" y2="107.3" stroke="#000" stroke-width="1.9"/>
<line x1="1202.2" y1="81.65" x2="1200" y2="81.65" stroke="#000" stroke-width="1.9"/>
<line x1="1202.2" y1="56" x2="1200" y2="56" stroke="#000" stroke-width="1.9"/>
<text x="1050.7" y="320.8" font-size="23" text-anchor="middle" font-weight="bold" fill="#000">Electric field (kV/cm)</text>
<text x="871.7" y="151.7" font-size="23" text-anchor="middle" font-weight="bold" fill="#000" transform="rotate(-90 871.7 151.7)">W<tspan dy="5" font-size="14.5">rec</tspan><tspan dy="-5">&#8203;</tspan> (J/cm<tspan dy="-9" font-size="14.5">3</tspan><tspan dy="9">&#8203;</tspan>)</text>
<text x="1250.5" y="152" font-size="23" text-anchor="middle" font-weight="bold" fill="#000" transform="rotate(-90 1250.5 152)"><tspan font-weight="normal">η</tspan>(%)</text>
</g>
<g id="panel-d">
<text x="15.3" y="364.3" font-size="25.3" text-anchor="start" font-weight="bold" fill="#000">(d)</text>
<rect x="100.1" y="383.86" width="31.8" height="204.64" fill="#383838" stroke="none" stroke-width="1.5"/>
<rect x="144.6" y="391.3" width="31.3" height="197.2" fill="#104a96" stroke="none" stroke-width="1.5"/>
<rect x="189.1" y="405.89" width="31.9" height="182.61" fill="#c00c0c" stroke="none" stroke-width="1.5"/>
<path d="M118 384.3 Q143 383.6 164.6 391.6" fill="none" stroke="#000" stroke-width="1.7"/>
<path d="M164.6 391.6 Q190 394.5 210.5 405.2" fill="none" stroke="#000" stroke-width="1.7"/>
<path d="M164.2 392.3 L153.17 389.71 L155.62 384.9 Z" fill="#000"/>
<path d="M211.6 406.4 L201.44 401.4 L204.91 397.26 Z" fill="#000"/>
<text x="146.3" y="380.3" font-size="13.4" text-anchor="middle" font-weight="bold" fill="#000" font-style="italic" transform="rotate(14 146.3 380.3)" stroke="#000" stroke-width="0.3">-3.73%</text>
<text x="196.2" y="391" font-size="13.4" text-anchor="middle" font-weight="bold" fill="#000" font-style="italic" transform="rotate(19 196.2 391)" stroke="#000" stroke-width="0.3">-7.20%</text>
<path d="M94.2 345.3 L227.6 345.3 L227.6 588.5" fill="none" stroke="#000" stroke-width="1.9" stroke-linejoin="round" stroke-linecap="square"/>
<path d="M94.2 345.3 L94.2 588.5 L227.6 588.5" fill="none" stroke="#000" stroke-width="2.2" stroke-linejoin="round" stroke-linecap="square"/>
<line x1="94.2" y1="588.5" x2="99" y2="588.5" stroke="#000" stroke-width="1.9"/>
<text x="88.3" y="593.34" font-size="17.3" text-anchor="end" font-weight="bold" fill="#000">0</text>
<line x1="94.2" y1="553.76" x2="99" y2="553.76" stroke="#000" stroke-width="1.9"/>
<text x="88.3" y="558.6" font-size="17.3" text-anchor="end" font-weight="bold" fill="#000">5</text>
<line x1="94.2" y1="519.01" x2="99" y2="519.01" stroke="#000" stroke-width="1.9"/>
<text x="88.3" y="523.86" font-size="17.3" text-anchor="end" font-weight="bold" fill="#000">10</text>
<line x1="94.2" y1="484.27" x2="99" y2="484.27" stroke="#000" stroke-width="1.9"/>
<text x="88.3" y="489.12" font-size="17.3" text-anchor="end" font-weight="bold" fill="#000">15</text>
<line x1="94.2" y1="449.53" x2="99" y2="449.53" stroke="#000" stroke-width="1.9"/>
<text x="88.3" y="454.37" font-size="17.3" text-anchor="end" font-weight="bold" fill="#000">20</text>
<line x1="94.2" y1="414.79" x2="99" y2="414.79" stroke="#000" stroke-width="1.9"/>
<text x="88.3" y="419.63" font-size="17.3" text-anchor="end" font-weight="bold" fill="#000">25</text>
<line x1="94.2" y1="380.04" x2="99" y2="380.04" stroke="#000" stroke-width="1.9"/>
<text x="88.3" y="384.89" font-size="17.3" text-anchor="end" font-weight="bold" fill="#000">30</text>
<text x="88.3" y="350.14" font-size="17.3" text-anchor="end" font-weight="bold" fill="#000">35</text>
<line x1="94.2" y1="571.13" x2="96.4" y2="571.13" stroke="#000" stroke-width="1.9"/>
<line x1="94.2" y1="536.39" x2="96.4" y2="536.39" stroke="#000" stroke-width="1.9"/>
<line x1="94.2" y1="501.64" x2="96.4" y2="501.64" stroke="#000" stroke-width="1.9"/>
<line x1="94.2" y1="466.9" x2="96.4" y2="466.9" stroke="#000" stroke-width="1.9"/>
<line x1="94.2" y1="432.16" x2="96.4" y2="432.16" stroke="#000" stroke-width="1.9"/>
<line x1="94.2" y1="397.41" x2="96.4" y2="397.41" stroke="#000" stroke-width="1.9"/>
<line x1="94.2" y1="362.67" x2="96.4" y2="362.67" stroke="#000" stroke-width="1.9"/>
<text x="58.8" y="466.3" font-size="23" text-anchor="middle" font-weight="bold" fill="#000" transform="rotate(-90 58.8 466.3)">P<tspan dy="5" font-size="14.5">m</tspan><tspan dy="-5">&#8203;</tspan> (μC/cm<tspan dy="-9" font-size="14.5">2</tspan><tspan dy="9">&#8203;</tspan>)</text>
<rect x="303.5" y="558.1" width="30.9" height="30.4" fill="#383838" stroke="none" stroke-width="1.5"/>
<rect x="347.4" y="497.3" width="31.4" height="91.2" fill="#104a96" stroke="none" stroke-width="1.5"/>
<rect x="391.9" y="391.51" width="31.2" height="196.99" fill="#c00c0c" stroke="none" stroke-width="1.5"/>
<path d="M317.8 557.8 Q338.5 506 363 497.3" fill="none" stroke="#000" stroke-width="1.7"/>
<path d="M363.3 497 Q367 420 409.5 391.6" fill="none" stroke="#000" stroke-width="1.7"/>
<path d="M363.5 497 L354.92 504.4 L352.47 499.59 Z" fill="#000"/>
<path d="M410.5 391 L402.75 399.26 L399.8 394.73 Z" fill="#000"/>
<text x="326.6" y="529" font-size="13.4" text-anchor="middle" font-weight="bold" fill="#000" font-style="italic" transform="rotate(-56 326.6 529)" stroke="#000" stroke-width="0.3">+33.01%</text>
<text x="368.2" y="446" font-size="13.4" text-anchor="middle" font-weight="bold" fill="#000" font-style="italic" transform="rotate(-65 368.2 446)" stroke="#000" stroke-width="0.3">+43.50%</text>
<path d="M296 345.3 L429.6 345.3 L429.6 588.5" fill="none" stroke="#000" stroke-width="1.9" stroke-linejoin="round" stroke-linecap="square"/>
<path d="M296 345.3 L296 588.5 L429.6 588.5" fill="none" stroke="#000" stroke-width="2.2" stroke-linejoin="round" stroke-linecap="square"/>
<line x1="296" y1="558.1" x2="300.8" y2="558.1" stroke="#000" stroke-width="1.9"/>
<text x="291" y="562.94" font-size="17.3" text-anchor="end" font-weight="bold" fill="#000">300</text>
<line x1="296" y1="497.3" x2="300.8" y2="497.3" stroke="#000" stroke-width="1.9"/>
<text x="291" y="502.14" font-size="17.3" text-anchor="end" font-weight="bold" fill="#000">400</text>
<line x1="296" y1="436.5" x2="300.8" y2="436.5" stroke="#000" stroke-width="1.9"/>
<text x="291" y="441.34" font-size="17.3" text-anchor="end" font-weight="bold" fill="#000">500</text>
<line x1="296" y1="375.7" x2="300.8" y2="375.7" stroke="#000" stroke-width="1.9"/>
<text x="291" y="380.54" font-size="17.3" text-anchor="end" font-weight="bold" fill="#000">600</text>
<line x1="296" y1="527.7" x2="298.2" y2="527.7" stroke="#000" stroke-width="1.9"/>
<line x1="296" y1="466.9" x2="298.2" y2="466.9" stroke="#000" stroke-width="1.9"/>
<line x1="296" y1="406.1" x2="298.2" y2="406.1" stroke="#000" stroke-width="1.9"/>
<text x="254" y="466.2" font-size="23" text-anchor="middle" font-weight="bold" fill="#000" transform="rotate(-90 254 466.2)">E<tspan dy="5" font-size="14.5">b</tspan><tspan dy="-5">&#8203;</tspan> (kV/cm)</text>
<rect x="490.2" y="556.4" width="31" height="32.1" fill="#383838" stroke="none" stroke-width="1.5"/>
<rect x="533.9" y="485" width="31.4" height="103.5" fill="#104a96" stroke="none" stroke-width="1.5"/>
<rect x="578.4" y="378" width="31.7" height="210.5" fill="#c00c0c" stroke="none" stroke-width="1.5"/>
<path d="M505.5 556.4 Q517 510 549.5 485.6" fill="none" stroke="#000" stroke-width="1.7"/>
<path d="M550.6 486 Q560 420 597.2 376.5" fill="none" stroke="#000" stroke-width="1.7"/>
<path d="M550 485.2 L542.84 493.98 L539.59 489.66 Z" fill="#000"/>
<path d="M597.8 375.8 L592.8 385.96 L588.66 382.49 Z" fill="#000"/>
<text x="514" y="523" font-size="13.4" text-anchor="middle" font-weight="bold" fill="#000" font-style="italic" transform="rotate(-56 514 523)" stroke="#000" stroke-width="0.3">+50.93%</text>
<text x="555.6" y="437.6" font-size="13.4" text-anchor="middle" font-weight="bold" fill="#000" font-style="italic" transform="rotate(-62 555.6 437.6)" stroke="#000" stroke-width="0.3">+50.69%</text>
<path d="M482.9 345.3 L616.4 345.3 L616.4 588.5" fill="none" stroke="#000" stroke-width="1.9" stroke-linejoin="round" stroke-linecap="square"/>
<path d="M482.9 345.3 L482.9 588.5 L616.4 588.5" fill="none" stroke="#000" stroke-width="2.2" stroke-linejoin="round" stroke-linecap="square"/>
<line x1="482.9" y1="588.5" x2="487.7" y2="588.5" stroke="#000" stroke-width="1.9"/>
<text x="477.4" y="593.34" font-size="17.3" text-anchor="end" font-weight="bold" fill="#000">2</text>
<line x1="482.9" y1="534.46" x2="487.7" y2="534.46" stroke="#000" stroke-width="1.9"/>
<text x="477.4" y="539.3" font-size="17.3" text-anchor="end" font-weight="bold" fill="#000">3</text>
<line x1="482.9" y1="480.41" x2="487.7" y2="480.41" stroke="#000" stroke-width="1.9"/>
<text x="477.4" y="485.26" font-size="17.3" text-anchor="end" font-weight="bold" fill="#000">4</text>
<line x1="482.9" y1="426.37" x2="487.7" y2="426.37" stroke="#000" stroke-width="1.9"/>
<text x="477.4" y="431.21" font-size="17.3" text-anchor="end" font-weight="bold" fill="#000">5</text>
<line x1="482.9" y1="372.32" x2="487.7" y2="372.32" stroke="#000" stroke-width="1.9"/>
<text x="477.4" y="377.17" font-size="17.3" text-anchor="end" font-weight="bold" fill="#000">6</text>
<line x1="482.9" y1="561.48" x2="485.1" y2="561.48" stroke="#000" stroke-width="1.9"/>
<line x1="482.9" y1="507.43" x2="485.1" y2="507.43" stroke="#000" stroke-width="1.9"/>
<line x1="482.9" y1="453.39" x2="485.1" y2="453.39" stroke="#000" stroke-width="1.9"/>
<line x1="482.9" y1="399.34" x2="485.1" y2="399.34" stroke="#000" stroke-width="1.9"/>
<text x="456.8" y="466.5" font-size="23" text-anchor="middle" font-weight="bold" fill="#000" transform="rotate(-90 456.8 466.5)">W<tspan dy="5" font-size="14.5">rec</tspan><tspan dy="-5">&#8203;</tspan> (J/cm<tspan dy="-9" font-size="14.5">3</tspan><tspan dy="9">&#8203;</tspan>)</text>
<rect x="693.3" y="565.15" width="30.6" height="23.35" fill="#383838" stroke="none" stroke-width="1.5"/>
<rect x="737.5" y="436.74" width="31.4" height="151.76" fill="#104a96" stroke="none" stroke-width="1.5"/>
<rect x="781.5" y="386.74" width="31.4" height="201.76" fill="#c00c0c" stroke="none" stroke-width="1.5"/>
<path d="M709.8 565.6 C715 520 733 478 753.3 440.6 C766 416 781 397 798.5 388.3" fill="none" stroke="#000" stroke-width="1.7"/>
<path d="M754.2 438.8 L751.23 449.73 L746.51 447.11 Z" fill="#000"/>
<path d="M799.5 387.8 L790.92 395.2 L788.47 390.39 Z" fill="#000"/>
<text x="712.4" y="521.5" font-size="13.4" text-anchor="middle" font-weight="bold" fill="#000" font-style="italic" transform="rotate(-72 712.4 521.5)" stroke="#000" stroke-width="0.3">+8.67%</text>
<text x="761" y="411.5" font-size="13.4" text-anchor="middle" font-weight="bold" fill="#000" font-style="italic" transform="rotate(-52 761 411.5)" stroke="#000" stroke-width="0.3">+3.13%</text>
<path d="M685.7 345.3 L818.9 345.3 L818.9 588.5" fill="none" stroke="#000" stroke-width="1.9" stroke-linejoin="round" stroke-linecap="square"/>
<path d="M685.7 345.3 L685.7 588.5 L818.9 588.5" fill="none" stroke="#000" stroke-width="2.2" stroke-linejoin="round" stroke-linecap="square"/>
<line x1="685.7" y1="588.5" x2="690.5" y2="588.5" stroke="#000" stroke-width="1.9"/>
<text x="680.8" y="593.34" font-size="17.3" text-anchor="end" font-weight="bold" fill="#000">75.0</text>
<line x1="685.7" y1="539.86" x2="690.5" y2="539.86" stroke="#000" stroke-width="1.9"/>
<text x="680.8" y="544.7" font-size="17.3" text-anchor="end" font-weight="bold" fill="#000">77.5</text>
<line x1="685.7" y1="491.22" x2="690.5" y2="491.22" stroke="#000" stroke-width="1.9"/>
<text x="680.8" y="496.06" font-size="17.3" text-anchor="end" font-weight="bold" fill="#000">80.0</text>
<line x1="685.7" y1="442.58" x2="690.5" y2="442.58" stroke="#000" stroke-width="1.9"/>
<text x="680.8" y="447.42" font-size="17.3" text-anchor="end" font-weight="bold" fill="#000">82.5</text>
<line x1="685.7" y1="393.94" x2="690.5" y2="393.94" stroke="#000" stroke-width="1.9"/>
<text x="680.8" y="398.78" font-size="17.3" text-anchor="end" font-weight="bold" fill="#000">85.0</text>
<text x="680.8" y="350.14" font-size="17.3" text-anchor="end" font-weight="bold" fill="#000">87.5</text>
<line x1="685.7" y1="564.18" x2="687.9" y2="564.18" stroke="#000" stroke-width="1.9"/>
<line x1="685.7" y1="515.54" x2="687.9" y2="515.54" stroke="#000" stroke-width="1.9"/>
<line x1="685.7" y1="466.9" x2="687.9" y2="466.9" stroke="#000" stroke-width="1.9"/>
<line x1="685.7" y1="418.26" x2="687.9" y2="418.26" stroke="#000" stroke-width="1.9"/>
<line x1="685.7" y1="369.62" x2="687.9" y2="369.62" stroke="#000" stroke-width="1.9"/>
<text x="642.5" y="466.5" font-size="23" text-anchor="middle" font-weight="bold" fill="#000" transform="rotate(-90 642.5 466.5)">η (%)</text>
<rect x="91" y="600.3" width="46" height="22.4" fill="#383838" stroke="none" stroke-width="1.5"/>
<text x="142.5" y="618.3" font-size="20.2" text-anchor="start" font-weight="bold" fill="#000">SBN</text>
<rect x="187.2" y="600.3" width="45.7" height="22.4" fill="#104a96" stroke="none" stroke-width="1.5"/>
<text x="238.1" y="618.3" font-size="20.2" text-anchor="start" font-weight="bold" fill="#000">SLBN</text>
<rect x="297.2" y="600.3" width="45.8" height="22.4" fill="#c00c0c" stroke="none" stroke-width="1.5"/>
<text x="348.7" y="618.3" font-size="20.2" text-anchor="start" font-weight="bold" fill="#000">SLBNT</text>
</g>
<g id="panel-e">
<text x="845" y="357.6" font-size="25.3" text-anchor="start" font-weight="bold" fill="#000">(e)</text>
<rect x="901.2" y="345.1" width="303" height="243.4" fill="url(#geh)" stroke="none" stroke-width="1.5"/>
<path d="M901.2 588.5 L901.2 345.1 L1204.2 345.1 Z" fill="url(#gev)"/>
<line x1="982.2" y1="345.1" x2="982.2" y2="588.5" stroke="#d02028" stroke-width="1" stroke-dasharray="4.5 3.5"/>
<line x1="901.2" y1="450.3" x2="1204.2" y2="450.3" stroke="#d02028" stroke-width="1" stroke-dasharray="4.5 3.5"/>
<ellipse cx="1018.3" cy="533.3" rx="117" ry="52.2" fill="none" stroke="#1a6cb4" stroke-width="1.9" stroke-dasharray="12 10.6" stroke-dashoffset="14"/>
<g opacity="0.45">
<rect x="928.15" y="558.55" width="10.1" height="10.1" fill="#fff" stroke="#1a6cb4" stroke-width="1.1"/>
<rect x="928.15" y="558.55" width="5.25" height="10.1" fill="#1a6cb4"/>
</g>
<path d="M928.9 557.3 L935.3 568.9 L922.5 568.9 Z" fill="#fff" stroke="#0c960c" stroke-width="1.1" stroke-linejoin="miter"/>
<path d="M928.9 557.3 L929.5 568.9 L922.5 568.9 Z" fill="#0c960c"/>
<rect x="915.05" y="396.05" width="10.1" height="10.1" fill="#fff" stroke="#b2580c" stroke-width="1.1"/>
<rect x="915.05" y="396.05" width="5.25" height="10.1" fill="#b2580c"/>
<rect x="927.55" y="421.95" width="10.1" height="10.1" fill="#fff" stroke="#b2580c" stroke-width="1.1"/>
<rect x="927.55" y="421.95" width="5.25" height="10.1" fill="#b2580c"/>
<rect x="1004.65" y="364.25" width="10.1" height="10.1" fill="#fff" stroke="#b2580c" stroke-width="1.1"/>
<rect x="1004.65" y="364.25" width="5.25" height="10.1" fill="#b2580c"/>
<rect x="1023.55" y="388.65" width="10.1" height="10.1" fill="#fff" stroke="#b2580c" stroke-width="1.1"/>
<rect x="1023.55" y="388.65" width="5.25" height="10.1" fill="#b2580c"/>
<rect x="1066.75" y="390.75" width="10.1" height="10.1" fill="#fff" stroke="#b2580c" stroke-width="1.1"/>
<rect x="1066.75" y="390.75" width="5.25" height="10.1" fill="#b2580c"/>
<rect x="1081.35" y="382.55" width="10.1" height="10.1" fill="#fff" stroke="#b2580c" stroke-width="1.1"/>
<rect x="1081.35" y="382.55" width="5.25" height="10.1" fill="#b2580c"/>
<rect x="1097.45" y="426.15" width="10.1" height="10.1" fill="#fff" stroke="#b2580c" stroke-width="1.1"/>
<rect x="1097.45" y="426.15" width="5.25" height="10.1" fill="#b2580c"/>
<rect x="982.15" y="461.55" width="10.1" height="10.1" fill="#fff" stroke="#b2580c" stroke-width="1.1"/>
<rect x="982.15" y="461.55" width="5.25" height="10.1" fill="#b2580c"/>
<rect x="997.95" y="452.25" width="10.1" height="10.1" fill="#fff" stroke="#b2580c" stroke-width="1.1"/>
<rect x="997.95" y="452.25" width="5.25" height="10.1" fill="#b2580c"/>
<rect x="1039.65" y="489.15" width="10.1" height="10.1" fill="#fff" stroke="#1a6cb4" stroke-width="1.1"/>
<rect x="1039.65" y="489.15" width="5.25" height="10.1" fill="#1a6cb4"/>
<rect x="1073.05" y="493.45" width="10.1" height="10.1" fill="#fff" stroke="#1a6cb4" stroke-width="1.1"/>
<rect x="1073.05" y="493.45" width="5.25" height="10.1" fill="#1a6cb4"/>
<rect x="1095.75" y="497.45" width="10.1" height="10.1" fill="#fff" stroke="#1a6cb4" stroke-width="1.1"/>
<rect x="1095.75" y="497.45" width="5.25" height="10.1" fill="#1a6cb4"/>
<rect x="1019.85" y="513.05" width="10.1" height="10.1" fill="#fff" stroke="#1a6cb4" stroke-width="1.1"/>
<rect x="1019.85" y="513.05" width="5.25" height="10.1" fill="#1a6cb4"/>
<rect x="1096.95" y="537.65" width="10.1" height="10.1" fill="#fff" stroke="#1a6cb4" stroke-width="1.1"/>
<rect x="1096.95" y="537.65" width="5.25" height="10.1" fill="#1a6cb4"/>
<rect x="1113.75" y="535.15" width="10.1" height="10.1" fill="#fff" stroke="#1a6cb4" stroke-width="1.1"/>
<rect x="1113.75" y="535.15" width="5.25" height="10.1" fill="#1a6cb4"/>
<rect x="1107.55" y="543.65" width="10.1" height="10.1" fill="#fff" stroke="#1a6cb4" stroke-width="1.1"/>
<rect x="1107.55" y="543.65" width="5.25" height="10.1" fill="#1a6cb4"/>
<rect x="1032.15" y="552.45" width="10.1" height="10.1" fill="#fff" stroke="#1a6cb4" stroke-width="1.1"/>
<rect x="1032.15" y="552.45" width="5.25" height="10.1" fill="#1a6cb4"/>
<path d="M1040 511.4 L1046.4 523 L1033.6 523 Z" fill="#fff" stroke="#0c960c" stroke-width="1.1" stroke-linejoin="miter"/>
<path d="M1040 511.4 L1040.6 523 L1033.6 523 Z" fill="#0c960c"/>
<path d="M1081.7 510.4 L1088.1 522 L1075.3 522 Z" fill="#fff" stroke="#0c960c" stroke-width="1.1" stroke-linejoin="miter"/>
<path d="M1081.7 510.4 L1082.3 522 L1075.3 522 Z" fill="#0c960c"/>
<path d="M923.6 516.5 L930 528.1 L917.2 528.1 Z" fill="#fff" stroke="#0c960c" stroke-width="1.1" stroke-linejoin="miter"/>
<path d="M923.6 516.5 L924.2 528.1 L917.2 528.1 Z" fill="#0c960c"/>
<path d="M1042.9 569.8 L1049.3 581.4 L1036.5 581.4 Z" fill="#fff" stroke="#0c960c" stroke-width="1.1" stroke-linejoin="miter"/>
<path d="M1042.9 569.8 L1043.5 581.4 L1036.5 581.4 Z" fill="#0c960c"/>
<path d="M1080.9 558.9 L1087.3 570.5 L1074.5 570.5 Z" fill="#fff" stroke="#0c960c" stroke-width="1.1" stroke-linejoin="miter"/>
<path d="M1080.9 558.9 L1081.5 570.5 L1074.5 570.5 Z" fill="#0c960c"/>
<path d="M982.2 441.3 L984.43 447.83 L991.33 447.93 L985.81 452.07 L987.84 458.67 L982.2 454.7 L976.56 458.67 L978.59 452.07 L973.07 447.93 L979.97 447.83 Z" fill="#cc1018" stroke="none" stroke-width="1.8" stroke-linejoin="round"/>
<text x="992.2" y="431.4" font-size="15.6" text-anchor="start" font-weight="bold" fill="#c8141c">This work</text>
<line x1="1014" y1="434.7" x2="992.5" y2="444.2" stroke="#d02028" stroke-width="1"/>
<path d="M989.6 445.5 L994.82 441.23 L996.27 444.52 Z" fill="#d02028"/>
<text x="1097.7" y="482" font-size="15.5" text-anchor="start" font-weight="bold" fill="#1a6cb4">TTB-based</text>
<line x1="1123.4" y1="508" x2="1130.3" y2="490" stroke="#1a6cb4" stroke-width="1.1"/>
<path d="M1131.6 486.6 L1130.95 493.31 L1127.59 492.02 Z" fill="#1a6cb4"/>
<rect x="1081.65" y="353.55" width="10.1" height="10.1" fill="#fff" stroke="#1a6cb4" stroke-width="1.1"/>
<rect x="1081.65" y="353.55" width="5.25" height="10.1" fill="#1a6cb4"/>
<path d="M1086.7 366.7 L1093.1 378.3 L1080.3 378.3 Z" fill="#fff" stroke="#0c960c" stroke-width="1.1" stroke-linejoin="miter"/>
<path d="M1086.7 366.7 L1087.3 378.3 L1080.3 378.3 Z" fill="#0c960c"/>
<text x="1101.5" y="362.6" font-size="11.7" text-anchor="start" font-weight="bold" fill="#000">Filled TTB-based</text>
<text x="1101.5" y="377.2" font-size="11.7" text-anchor="start" font-weight="bold" fill="#000">Unfilled TTB-based</text>
<text x="1101.5" y="391.8" font-size="11.7" text-anchor="start" font-weight="bold" fill="#000">Perovskite-based</text>
<path d="M901.2 345.1 L1204.2 345.1 L1204.2 588.5" fill="none" stroke="#000" stroke-width="1.9" stroke-linejoin="round" stroke-linecap="square"/>
<path d="M901.2 345.1 L901.2 588.5 L1204.2 588.5" fill="none" stroke="#000" stroke-width="2.2" stroke-linejoin="round" stroke-linecap="square"/>
<line x1="901.2" y1="588.5" x2="901.2" y2="583.7" stroke="#000" stroke-width="1.9"/>
<text x="901.2" y="606.7" font-size="17.3" text-anchor="middle" font-weight="bold" fill="#000">80</text>
<line x1="931.45" y1="588.5" x2="931.45" y2="583.7" stroke="#000" stroke-width="1.9"/>
<text x="931.45" y="606.7" font-size="17.3" text-anchor="middle" font-weight="bold" fill="#000">82</text>
<line x1="961.71" y1="588.5" x2="961.71" y2="583.7" stroke="#000" stroke-width="1.9"/>
<text x="961.71" y="606.7" font-size="17.3" text-anchor="middle" font-weight="bold" fill="#000">84</text>
<line x1="991.96" y1="588.5" x2="991.96" y2="583.7" stroke="#000" stroke-width="1.9"/>
<text x="991.96" y="606.7" font-size="17.3" text-anchor="middle" font-weight="bold" fill="#000">86</text>
<line x1="1022.22" y1="588.5" x2="1022.22" y2="583.7" stroke="#000" stroke-width="1.9"/>
<text x="1022.22" y="606.7" font-size="17.3" text-anchor="middle" font-weight="bold" fill="#000">88</text>
<line x1="1052.47" y1="588.5" x2="1052.47" y2="583.7" stroke="#000" stroke-width="1.9"/>
<text x="1052.47" y="606.7" font-size="17.3" text-anchor="middle" font-weight="bold" fill="#000">90</text>
<line x1="1082.73" y1="588.5" x2="1082.73" y2="583.7" stroke="#000" stroke-width="1.9"/>
<text x="1082.73" y="606.7" font-size="17.3" text-anchor="middle" font-weight="bold" fill="#000">92</text>
<line x1="1112.98" y1="588.5" x2="1112.98" y2="583.7" stroke="#000" stroke-width="1.9"/>
<text x="1112.98" y="606.7" font-size="17.3" text-anchor="middle" font-weight="bold" fill="#000">94</text>
<line x1="1143.24" y1="588.5" x2="1143.24" y2="583.7" stroke="#000" stroke-width="1.9"/>
<text x="1143.24" y="606.7" font-size="17.3" text-anchor="middle" font-weight="bold" fill="#000">96</text>
<line x1="1173.49" y1="588.5" x2="1173.49" y2="583.7" stroke="#000" stroke-width="1.9"/>
<text x="1173.49" y="606.7" font-size="17.3" text-anchor="middle" font-weight="bold" fill="#000">98</text>
<text x="1203.75" y="606.7" font-size="17.3" text-anchor="middle" font-weight="bold" fill="#000">100</text>
<line x1="916.33" y1="588.5" x2="916.33" y2="586.3" stroke="#000" stroke-width="1.9"/>
<line x1="946.58" y1="588.5" x2="946.58" y2="586.3" stroke="#000" stroke-width="1.9"/>
<line x1="976.84" y1="588.5" x2="976.84" y2="586.3" stroke="#000" stroke-width="1.9"/>
<line x1="1007.09" y1="588.5" x2="1007.09" y2="586.3" stroke="#000" stroke-width="1.9"/>
<line x1="1037.35" y1="588.5" x2="1037.35" y2="586.3" stroke="#000" stroke-width="1.9"/>
<line x1="1067.6" y1="588.5" x2="1067.6" y2="586.3" stroke="#000" stroke-width="1.9"/>
<line x1="1097.86" y1="588.5" x2="1097.86" y2="586.3" stroke="#000" stroke-width="1.9"/>
<line x1="1128.11" y1="588.5" x2="1128.11" y2="586.3" stroke="#000" stroke-width="1.9"/>
<line x1="1158.36" y1="588.5" x2="1158.36" y2="586.3" stroke="#000" stroke-width="1.9"/>
<line x1="1188.62" y1="588.5" x2="1188.62" y2="586.3" stroke="#000" stroke-width="1.9"/>
<line x1="901.2" y1="575.69" x2="906" y2="575.69" stroke="#000" stroke-width="1.9"/>
<text x="895.7" y="579.93" font-size="17.3" text-anchor="end" font-weight="bold" fill="#000">1</text>
<line x1="901.2" y1="550.07" x2="906" y2="550.07" stroke="#000" stroke-width="1.9"/>
<text x="895.7" y="554.31" font-size="17.3" text-anchor="end" font-weight="bold" fill="#000">2</text>
<line x1="901.2" y1="524.45" x2="906" y2="524.45" stroke="#000" stroke-width="1.9"/>
<text x="895.7" y="528.69" font-size="17.3" text-anchor="end" font-weight="bold" fill="#000">3</text>
<line x1="901.2" y1="498.83" x2="906" y2="498.83" stroke="#000" stroke-width="1.9"/>
<text x="895.7" y="503.07" font-size="17.3" text-anchor="end" font-weight="bold" fill="#000">4</text>
<line x1="901.2" y1="473.21" x2="906" y2="473.21" stroke="#000" stroke-width="1.9"/>
<text x="895.7" y="477.45" font-size="17.3" text-anchor="end" font-weight="bold" fill="#000">5</text>
<line x1="901.2" y1="447.58" x2="906" y2="447.58" stroke="#000" stroke-width="1.9"/>
<text x="895.7" y="451.83" font-size="17.3" text-anchor="end" font-weight="bold" fill="#000">6</text>
<line x1="901.2" y1="421.96" x2="906" y2="421.96" stroke="#000" stroke-width="1.9"/>
<text x="895.7" y="426.21" font-size="17.3" text-anchor="end" font-weight="bold" fill="#000">7</text>
<line x1="901.2" y1="396.34" x2="906" y2="396.34" stroke="#000" stroke-width="1.9"/>
<text x="895.7" y="400.59" font-size="17.3" text-anchor="end" font-weight="bold" fill="#000">8</text>
<line x1="901.2" y1="370.72" x2="906" y2="370.72" stroke="#000" stroke-width="1.9"/>
<text x="895.7" y="374.97" font-size="17.3" text-anchor="end" font-weight="bold" fill="#000">9</text>
<text x="895.7" y="349.34" font-size="17.3" text-anchor="end" font-weight="bold" fill="#000">10</text>
<line x1="901.2" y1="588.5" x2="903.4" y2="588.5" stroke="#000" stroke-width="1.9"/>
<line x1="901.2" y1="562.88" x2="903.4" y2="562.88" stroke="#000" stroke-width="1.9"/>
<line x1="901.2" y1="537.26" x2="903.4" y2="537.26" stroke="#000" stroke-width="1.9"/>
<line x1="901.2" y1="511.64" x2="903.4" y2="511.64" stroke="#000" stroke-width="1.9"/>
<line x1="901.2" y1="486.02" x2="903.4" y2="486.02" stroke="#000" stroke-width="1.9"/>
<line x1="901.2" y1="460.39" x2="903.4" y2="460.39" stroke="#000" stroke-width="1.9"/>
<line x1="901.2" y1="434.77" x2="903.4" y2="434.77" stroke="#000" stroke-width="1.9"/>
<line x1="901.2" y1="409.15" x2="903.4" y2="409.15" stroke="#000" stroke-width="1.9"/>
<line x1="901.2" y1="383.53" x2="903.4" y2="383.53" stroke="#000" stroke-width="1.9"/>
<line x1="901.2" y1="357.91" x2="903.4" y2="357.91" stroke="#000" stroke-width="1.9"/>
<text x="1052.3" y="633.8" font-size="24.2" text-anchor="middle" font-weight="normal" fill="#000" stroke="#000" stroke-width="0.35">η (%)</text>
<text x="866.1" y="466.2" font-size="23" text-anchor="middle" font-weight="bold" fill="#000" transform="rotate(-90 866.1 466.2)">W<tspan dy="5" font-size="14.5">rec</tspan><tspan dy="-5">&#8203;</tspan> (J/cm<tspan dy="-9" font-size="14.5">3</tspan><tspan dy="9">&#8203;</tspan>)</text>
</g>
</svg>
</body>
</html>
